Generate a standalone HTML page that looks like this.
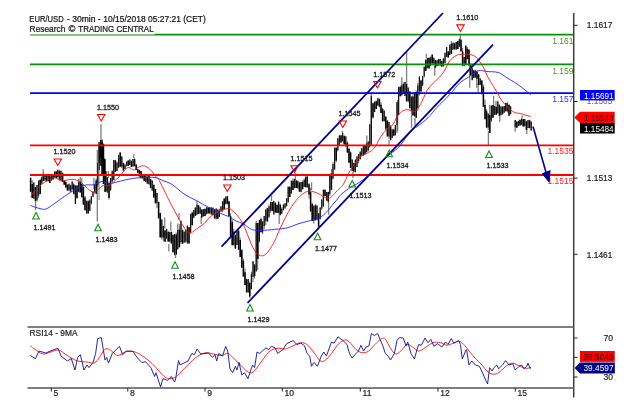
<!DOCTYPE html>
<html lang="en"><head><meta charset="utf-8"><title>EUR/USD - 30min</title>
<style>html,body{margin:0;padding:0;background:#fff;width:624px;height:415px;overflow:hidden}</style>
</head><body>
<svg width="624" height="415" viewBox="0 0 624 415" style="display:block;position:absolute;left:0;top:0">
<rect width="624" height="415" fill="#fff"/>
<line x1="35.6" y1="200.0" x2="35.6" y2="210.0" stroke="#808080" stroke-width="1.3"/>
<line x1="43.3" y1="169.3" x2="43.3" y2="175.0" stroke="#808080" stroke-width="1.3"/>
<line x1="97.3" y1="150.0" x2="97.3" y2="221.5" stroke="#808080" stroke-width="1.3"/>
<line x1="101.0" y1="124.0" x2="101.0" y2="141.0" stroke="#808080" stroke-width="1.3"/>
<line x1="93.9" y1="177.8" x2="93.9" y2="189.0" stroke="#808080" stroke-width="1.3"/>
<line x1="108.3" y1="171.0" x2="108.3" y2="178.0" stroke="#808080" stroke-width="1.3"/>
<line x1="133.8" y1="154.0" x2="133.8" y2="158.0" stroke="#808080" stroke-width="1.3"/>
<line x1="149.2" y1="175.6" x2="149.2" y2="178.0" stroke="#808080" stroke-width="1.3"/>
<line x1="164.7" y1="217.6" x2="164.7" y2="228.0" stroke="#808080" stroke-width="1.3"/>
<line x1="168.8" y1="244.0" x2="168.8" y2="251.5" stroke="#808080" stroke-width="1.3"/>
<line x1="170.8" y1="221.4" x2="170.8" y2="231.0" stroke="#808080" stroke-width="1.3"/>
<line x1="179.0" y1="213.0" x2="179.0" y2="220.0" stroke="#808080" stroke-width="1.3"/>
<line x1="175.5" y1="255.0" x2="175.5" y2="258.0" stroke="#808080" stroke-width="1.3"/>
<line x1="197.0" y1="200.9" x2="197.0" y2="205.0" stroke="#808080" stroke-width="1.3"/>
<line x1="201.2" y1="216.0" x2="201.2" y2="224.0" stroke="#808080" stroke-width="1.3"/>
<line x1="271.5" y1="195.5" x2="271.5" y2="201.0" stroke="#808080" stroke-width="1.3"/>
<line x1="279.2" y1="214.0" x2="279.2" y2="224.0" stroke="#808080" stroke-width="1.3"/>
<line x1="295.4" y1="173.0" x2="295.4" y2="180.0" stroke="#808080" stroke-width="1.3"/>
<line x1="311.6" y1="182.3" x2="311.6" y2="190.0" stroke="#808080" stroke-width="1.3"/>
<line x1="328.6" y1="200.0" x2="328.6" y2="214.8" stroke="#808080" stroke-width="1.3"/>
<line x1="342.4" y1="130.8" x2="342.4" y2="134.0" stroke="#808080" stroke-width="1.3"/>
<line x1="352.9" y1="172.0" x2="352.9" y2="177.9" stroke="#808080" stroke-width="1.3"/>
<line x1="366.8" y1="135.4" x2="366.8" y2="143.0" stroke="#808080" stroke-width="1.3"/>
<line x1="389.0" y1="140.0" x2="389.0" y2="144.7" stroke="#808080" stroke-width="1.3"/>
<line x1="401.8" y1="77.0" x2="401.8" y2="86.0" stroke="#808080" stroke-width="1.3"/>
<line x1="406.6" y1="52.0" x2="406.6" y2="85.0" stroke="#808080" stroke-width="1.3"/>
<line x1="411.5" y1="110.0" x2="411.5" y2="127.7" stroke="#808080" stroke-width="1.3"/>
<line x1="415.0" y1="118.0" x2="415.0" y2="125.4" stroke="#808080" stroke-width="1.3"/>
<line x1="426.4" y1="53.7" x2="426.4" y2="58.0" stroke="#808080" stroke-width="1.3"/>
<line x1="434.7" y1="66.0" x2="434.7" y2="75.5" stroke="#808080" stroke-width="1.3"/>
<line x1="469.7" y1="66.0" x2="469.7" y2="87.7" stroke="#808080" stroke-width="1.3"/>
<line x1="476.7" y1="78.0" x2="476.7" y2="87.7" stroke="#808080" stroke-width="1.3"/>
<line x1="478.2" y1="83.0" x2="478.2" y2="93.0" stroke="#808080" stroke-width="1.3"/>
<line x1="488.4" y1="131.0" x2="488.4" y2="145.4" stroke="#808080" stroke-width="1.3"/>
<line x1="489.8" y1="104.7" x2="489.8" y2="115.0" stroke="#808080" stroke-width="1.3"/>
<line x1="493.6" y1="96.0" x2="493.6" y2="106.0" stroke="#808080" stroke-width="1.3"/>
<line x1="496.0" y1="100.9" x2="496.0" y2="107.0" stroke="#808080" stroke-width="1.3"/>
<line x1="499.8" y1="114.0" x2="499.8" y2="121.7" stroke="#808080" stroke-width="1.3"/>
<line x1="515.2" y1="128.0" x2="515.2" y2="131.7" stroke="#808080" stroke-width="1.3"/>
<line x1="522.2" y1="115.5" x2="522.2" y2="118.0" stroke="#808080" stroke-width="1.3"/>
<line x1="526.8" y1="128.0" x2="526.8" y2="134.0" stroke="#808080" stroke-width="1.3"/>
<line x1="318.5" y1="225.0" x2="318.5" y2="228.0" stroke="#808080" stroke-width="1.3"/>
<line x1="257.6" y1="225.0" x2="257.6" y2="270.0" stroke="#808080" stroke-width="1.3"/>
<line x1="371.2" y1="93.0" x2="371.2" y2="125.0" stroke="#808080" stroke-width="1.3"/>
<line x1="397.6" y1="100.0" x2="397.6" y2="131.0" stroke="#808080" stroke-width="1.3"/>
<line x1="460.4" y1="34.6" x2="460.4" y2="40.0" stroke="#808080" stroke-width="1.3"/>
<line x1="30.6" y1="177.6" x2="30.6" y2="191.7" stroke="#505050" stroke-width="0.9"/>
<line x1="32.2" y1="180.2" x2="32.2" y2="197.9" stroke="#505050" stroke-width="0.9"/>
<line x1="33.8" y1="182.4" x2="33.8" y2="198.7" stroke="#505050" stroke-width="0.9"/>
<line x1="35.4" y1="186.7" x2="35.4" y2="201.2" stroke="#505050" stroke-width="0.9"/>
<line x1="37.0" y1="184.9" x2="37.0" y2="201.3" stroke="#505050" stroke-width="0.9"/>
<line x1="38.6" y1="180.7" x2="38.6" y2="197.8" stroke="#505050" stroke-width="0.9"/>
<line x1="40.2" y1="178.7" x2="40.2" y2="194.1" stroke="#505050" stroke-width="0.9"/>
<line x1="41.8" y1="176.3" x2="41.8" y2="183.8" stroke="#505050" stroke-width="0.9"/>
<line x1="43.4" y1="172.8" x2="43.4" y2="181.0" stroke="#505050" stroke-width="0.9"/>
<line x1="45.0" y1="175.6" x2="45.0" y2="180.7" stroke="#505050" stroke-width="0.9"/>
<line x1="46.6" y1="175.2" x2="46.6" y2="181.3" stroke="#505050" stroke-width="0.9"/>
<line x1="48.2" y1="174.9" x2="48.2" y2="181.3" stroke="#505050" stroke-width="0.9"/>
<line x1="49.8" y1="176.1" x2="49.8" y2="182.9" stroke="#505050" stroke-width="0.9"/>
<line x1="51.4" y1="174.2" x2="51.4" y2="180.8" stroke="#505050" stroke-width="0.9"/>
<line x1="53.0" y1="173.9" x2="53.0" y2="179.5" stroke="#505050" stroke-width="0.9"/>
<line x1="54.6" y1="171.5" x2="54.6" y2="178.2" stroke="#505050" stroke-width="0.9"/>
<line x1="56.2" y1="171.3" x2="56.2" y2="178.1" stroke="#505050" stroke-width="0.9"/>
<line x1="57.8" y1="169.6" x2="57.8" y2="177.8" stroke="#505050" stroke-width="0.9"/>
<line x1="59.4" y1="170.5" x2="59.4" y2="179.5" stroke="#505050" stroke-width="0.9"/>
<line x1="61.0" y1="170.8" x2="61.0" y2="180.6" stroke="#505050" stroke-width="0.9"/>
<line x1="62.6" y1="172.4" x2="62.6" y2="182.1" stroke="#505050" stroke-width="0.9"/>
<line x1="64.2" y1="180.4" x2="64.2" y2="184.8" stroke="#505050" stroke-width="0.9"/>
<line x1="65.8" y1="181.1" x2="65.8" y2="187.6" stroke="#505050" stroke-width="0.9"/>
<line x1="67.4" y1="184.3" x2="67.4" y2="190.5" stroke="#505050" stroke-width="0.9"/>
<line x1="69.0" y1="183.7" x2="69.0" y2="190.7" stroke="#505050" stroke-width="0.9"/>
<line x1="70.6" y1="184.9" x2="70.6" y2="191.6" stroke="#505050" stroke-width="0.9"/>
<line x1="72.2" y1="181.4" x2="72.2" y2="190.0" stroke="#505050" stroke-width="0.9"/>
<line x1="73.8" y1="183.2" x2="73.8" y2="194.7" stroke="#505050" stroke-width="0.9"/>
<line x1="75.4" y1="185.5" x2="75.4" y2="204.0" stroke="#505050" stroke-width="0.9"/>
<line x1="77.0" y1="185.2" x2="77.0" y2="198.3" stroke="#505050" stroke-width="0.9"/>
<line x1="78.6" y1="178.9" x2="78.6" y2="192.2" stroke="#505050" stroke-width="0.9"/>
<line x1="80.2" y1="177.0" x2="80.2" y2="192.6" stroke="#505050" stroke-width="0.9"/>
<line x1="81.8" y1="178.1" x2="81.8" y2="197.2" stroke="#505050" stroke-width="0.9"/>
<line x1="83.4" y1="186.7" x2="83.4" y2="204.7" stroke="#505050" stroke-width="0.9"/>
<line x1="85.0" y1="196.0" x2="85.0" y2="210.3" stroke="#505050" stroke-width="0.9"/>
<line x1="86.6" y1="200.8" x2="86.6" y2="213.5" stroke="#505050" stroke-width="0.9"/>
<line x1="88.2" y1="200.3" x2="88.2" y2="213.7" stroke="#505050" stroke-width="0.9"/>
<line x1="89.8" y1="199.0" x2="89.8" y2="210.8" stroke="#505050" stroke-width="0.9"/>
<line x1="91.4" y1="196.4" x2="91.4" y2="204.6" stroke="#505050" stroke-width="0.9"/>
<line x1="93.0" y1="191.6" x2="93.0" y2="196.9" stroke="#505050" stroke-width="0.9"/>
<line x1="94.6" y1="185.1" x2="94.6" y2="193.4" stroke="#505050" stroke-width="0.9"/>
<line x1="96.2" y1="178.5" x2="96.2" y2="193.8" stroke="#505050" stroke-width="0.9"/>
<line x1="97.8" y1="162.9" x2="97.8" y2="187.7" stroke="#505050" stroke-width="0.9"/>
<line x1="99.4" y1="144.2" x2="99.4" y2="170.2" stroke="#505050" stroke-width="0.9"/>
<line x1="101.0" y1="143.1" x2="101.0" y2="165.7" stroke="#505050" stroke-width="0.9"/>
<line x1="102.6" y1="142.3" x2="102.6" y2="174.4" stroke="#505050" stroke-width="0.9"/>
<line x1="104.2" y1="157.7" x2="104.2" y2="182.0" stroke="#505050" stroke-width="0.9"/>
<line x1="105.8" y1="170.7" x2="105.8" y2="191.6" stroke="#505050" stroke-width="0.9"/>
<line x1="107.4" y1="177.2" x2="107.4" y2="193.3" stroke="#505050" stroke-width="0.9"/>
<line x1="109.0" y1="181.3" x2="109.0" y2="199.6" stroke="#505050" stroke-width="0.9"/>
<line x1="110.6" y1="178.3" x2="110.6" y2="190.5" stroke="#505050" stroke-width="0.9"/>
<line x1="112.2" y1="170.8" x2="112.2" y2="182.9" stroke="#505050" stroke-width="0.9"/>
<line x1="113.8" y1="159.9" x2="113.8" y2="180.0" stroke="#505050" stroke-width="0.9"/>
<line x1="115.4" y1="160.1" x2="115.4" y2="172.0" stroke="#505050" stroke-width="0.9"/>
<line x1="117.0" y1="161.5" x2="117.0" y2="171.1" stroke="#505050" stroke-width="0.9"/>
<line x1="118.6" y1="154.9" x2="118.6" y2="168.1" stroke="#505050" stroke-width="0.9"/>
<line x1="120.2" y1="152.5" x2="120.2" y2="166.8" stroke="#505050" stroke-width="0.9"/>
<line x1="121.8" y1="156.5" x2="121.8" y2="168.1" stroke="#505050" stroke-width="0.9"/>
<line x1="123.4" y1="162.7" x2="123.4" y2="170.7" stroke="#505050" stroke-width="0.9"/>
<line x1="125.0" y1="164.4" x2="125.0" y2="169.3" stroke="#505050" stroke-width="0.9"/>
<line x1="126.6" y1="161.7" x2="126.6" y2="166.4" stroke="#505050" stroke-width="0.9"/>
<line x1="128.2" y1="159.9" x2="128.2" y2="166.1" stroke="#505050" stroke-width="0.9"/>
<line x1="129.8" y1="159.5" x2="129.8" y2="165.0" stroke="#505050" stroke-width="0.9"/>
<line x1="131.4" y1="160.6" x2="131.4" y2="166.9" stroke="#505050" stroke-width="0.9"/>
<line x1="133.0" y1="159.1" x2="133.0" y2="166.9" stroke="#505050" stroke-width="0.9"/>
<line x1="134.6" y1="158.3" x2="134.6" y2="166.5" stroke="#505050" stroke-width="0.9"/>
<line x1="136.2" y1="164.2" x2="136.2" y2="170.1" stroke="#505050" stroke-width="0.9"/>
<line x1="137.8" y1="169.2" x2="137.8" y2="172.7" stroke="#505050" stroke-width="0.9"/>
<line x1="139.4" y1="169.5" x2="139.4" y2="176.5" stroke="#505050" stroke-width="0.9"/>
<line x1="141.0" y1="171.0" x2="141.0" y2="178.2" stroke="#505050" stroke-width="0.9"/>
<line x1="142.6" y1="174.2" x2="142.6" y2="178.7" stroke="#505050" stroke-width="0.9"/>
<line x1="144.2" y1="175.8" x2="144.2" y2="181.5" stroke="#505050" stroke-width="0.9"/>
<line x1="145.8" y1="175.6" x2="145.8" y2="181.9" stroke="#505050" stroke-width="0.9"/>
<line x1="147.4" y1="176.6" x2="147.4" y2="183.6" stroke="#505050" stroke-width="0.9"/>
<line x1="149.0" y1="176.0" x2="149.0" y2="185.0" stroke="#505050" stroke-width="0.9"/>
<line x1="150.6" y1="179.0" x2="150.6" y2="188.1" stroke="#505050" stroke-width="0.9"/>
<line x1="152.2" y1="180.6" x2="152.2" y2="191.1" stroke="#505050" stroke-width="0.9"/>
<line x1="153.8" y1="184.7" x2="153.8" y2="197.5" stroke="#505050" stroke-width="0.9"/>
<line x1="155.4" y1="188.8" x2="155.4" y2="203.3" stroke="#505050" stroke-width="0.9"/>
<line x1="157.0" y1="193.0" x2="157.0" y2="208.1" stroke="#505050" stroke-width="0.9"/>
<line x1="158.6" y1="201.9" x2="158.6" y2="218.3" stroke="#505050" stroke-width="0.9"/>
<line x1="160.2" y1="212.8" x2="160.2" y2="237.4" stroke="#505050" stroke-width="0.9"/>
<line x1="161.8" y1="219.4" x2="161.8" y2="239.6" stroke="#505050" stroke-width="0.9"/>
<line x1="163.4" y1="225.8" x2="163.4" y2="241.3" stroke="#505050" stroke-width="0.9"/>
<line x1="165.0" y1="229.9" x2="165.0" y2="241.8" stroke="#505050" stroke-width="0.9"/>
<line x1="166.6" y1="228.8" x2="166.6" y2="238.8" stroke="#505050" stroke-width="0.9"/>
<line x1="168.2" y1="230.8" x2="168.2" y2="241.8" stroke="#505050" stroke-width="0.9"/>
<line x1="169.8" y1="231.7" x2="169.8" y2="242.5" stroke="#505050" stroke-width="0.9"/>
<line x1="171.4" y1="231.5" x2="171.4" y2="243.6" stroke="#505050" stroke-width="0.9"/>
<line x1="173.0" y1="234.2" x2="173.0" y2="252.3" stroke="#505050" stroke-width="0.9"/>
<line x1="174.6" y1="234.1" x2="174.6" y2="255.4" stroke="#505050" stroke-width="0.9"/>
<line x1="176.2" y1="232.5" x2="176.2" y2="254.7" stroke="#505050" stroke-width="0.9"/>
<line x1="177.8" y1="223.5" x2="177.8" y2="249.4" stroke="#505050" stroke-width="0.9"/>
<line x1="179.4" y1="224.3" x2="179.4" y2="247.3" stroke="#505050" stroke-width="0.9"/>
<line x1="181.0" y1="220.3" x2="181.0" y2="244.2" stroke="#505050" stroke-width="0.9"/>
<line x1="182.6" y1="229.4" x2="182.6" y2="243.8" stroke="#505050" stroke-width="0.9"/>
<line x1="184.2" y1="231.6" x2="184.2" y2="242.7" stroke="#505050" stroke-width="0.9"/>
<line x1="185.8" y1="229.9" x2="185.8" y2="242.9" stroke="#505050" stroke-width="0.9"/>
<line x1="187.4" y1="225.6" x2="187.4" y2="244.1" stroke="#505050" stroke-width="0.9"/>
<line x1="189.0" y1="227.0" x2="189.0" y2="243.4" stroke="#505050" stroke-width="0.9"/>
<line x1="190.6" y1="213.8" x2="190.6" y2="232.9" stroke="#505050" stroke-width="0.9"/>
<line x1="192.2" y1="211.5" x2="192.2" y2="225.2" stroke="#505050" stroke-width="0.9"/>
<line x1="193.8" y1="209.9" x2="193.8" y2="218.3" stroke="#505050" stroke-width="0.9"/>
<line x1="195.4" y1="207.5" x2="195.4" y2="215.9" stroke="#505050" stroke-width="0.9"/>
<line x1="197.0" y1="204.7" x2="197.0" y2="214.7" stroke="#505050" stroke-width="0.9"/>
<line x1="198.6" y1="205.2" x2="198.6" y2="213.7" stroke="#505050" stroke-width="0.9"/>
<line x1="200.2" y1="206.9" x2="200.2" y2="214.0" stroke="#505050" stroke-width="0.9"/>
<line x1="201.8" y1="209.5" x2="201.8" y2="217.6" stroke="#505050" stroke-width="0.9"/>
<line x1="203.4" y1="209.1" x2="203.4" y2="216.7" stroke="#505050" stroke-width="0.9"/>
<line x1="205.0" y1="208.4" x2="205.0" y2="216.1" stroke="#505050" stroke-width="0.9"/>
<line x1="206.6" y1="207.3" x2="206.6" y2="214.2" stroke="#505050" stroke-width="0.9"/>
<line x1="208.2" y1="207.5" x2="208.2" y2="213.4" stroke="#505050" stroke-width="0.9"/>
<line x1="209.8" y1="207.5" x2="209.8" y2="213.4" stroke="#505050" stroke-width="0.9"/>
<line x1="211.4" y1="207.3" x2="211.4" y2="214.5" stroke="#505050" stroke-width="0.9"/>
<line x1="213.0" y1="207.8" x2="213.0" y2="215.3" stroke="#505050" stroke-width="0.9"/>
<line x1="214.6" y1="208.9" x2="214.6" y2="218.5" stroke="#505050" stroke-width="0.9"/>
<line x1="216.2" y1="208.6" x2="216.2" y2="219.6" stroke="#505050" stroke-width="0.9"/>
<line x1="217.8" y1="209.3" x2="217.8" y2="218.9" stroke="#505050" stroke-width="0.9"/>
<line x1="219.4" y1="208.7" x2="219.4" y2="217.0" stroke="#505050" stroke-width="0.9"/>
<line x1="221.0" y1="206.2" x2="221.0" y2="211.8" stroke="#505050" stroke-width="0.9"/>
<line x1="222.6" y1="201.4" x2="222.6" y2="212.4" stroke="#505050" stroke-width="0.9"/>
<line x1="224.2" y1="198.1" x2="224.2" y2="209.3" stroke="#505050" stroke-width="0.9"/>
<line x1="225.8" y1="196.3" x2="225.8" y2="204.3" stroke="#505050" stroke-width="0.9"/>
<line x1="227.4" y1="195.8" x2="227.4" y2="204.5" stroke="#505050" stroke-width="0.9"/>
<line x1="229.0" y1="201.1" x2="229.0" y2="216.1" stroke="#505050" stroke-width="0.9"/>
<line x1="230.6" y1="213.2" x2="230.6" y2="238.4" stroke="#505050" stroke-width="0.9"/>
<line x1="232.2" y1="219.8" x2="232.2" y2="245.2" stroke="#505050" stroke-width="0.9"/>
<line x1="233.8" y1="228.6" x2="233.8" y2="245.3" stroke="#505050" stroke-width="0.9"/>
<line x1="235.4" y1="234.5" x2="235.4" y2="248.9" stroke="#505050" stroke-width="0.9"/>
<line x1="237.0" y1="231.0" x2="237.0" y2="244.9" stroke="#505050" stroke-width="0.9"/>
<line x1="238.6" y1="230.0" x2="238.6" y2="249.8" stroke="#505050" stroke-width="0.9"/>
<line x1="240.2" y1="237.6" x2="240.2" y2="257.0" stroke="#505050" stroke-width="0.9"/>
<line x1="241.8" y1="249.7" x2="241.8" y2="267.7" stroke="#505050" stroke-width="0.9"/>
<line x1="243.4" y1="258.7" x2="243.4" y2="276.6" stroke="#505050" stroke-width="0.9"/>
<line x1="245.0" y1="268.5" x2="245.0" y2="285.0" stroke="#505050" stroke-width="0.9"/>
<line x1="246.6" y1="278.8" x2="246.6" y2="292.4" stroke="#505050" stroke-width="0.9"/>
<line x1="248.2" y1="278.9" x2="248.2" y2="292.5" stroke="#505050" stroke-width="0.9"/>
<line x1="249.8" y1="281.5" x2="249.8" y2="298.0" stroke="#505050" stroke-width="0.9"/>
<line x1="251.4" y1="271.7" x2="251.4" y2="289.2" stroke="#505050" stroke-width="0.9"/>
<line x1="253.0" y1="261.2" x2="253.0" y2="282.2" stroke="#505050" stroke-width="0.9"/>
<line x1="254.6" y1="264.1" x2="254.6" y2="278.4" stroke="#505050" stroke-width="0.9"/>
<line x1="256.2" y1="221.0" x2="256.2" y2="272.1" stroke="#505050" stroke-width="0.9"/>
<line x1="257.8" y1="222.6" x2="257.8" y2="259.1" stroke="#505050" stroke-width="0.9"/>
<line x1="259.4" y1="220.0" x2="259.4" y2="242.4" stroke="#505050" stroke-width="0.9"/>
<line x1="261.0" y1="217.6" x2="261.0" y2="232.3" stroke="#505050" stroke-width="0.9"/>
<line x1="262.6" y1="221.4" x2="262.6" y2="234.2" stroke="#505050" stroke-width="0.9"/>
<line x1="264.2" y1="216.0" x2="264.2" y2="229.1" stroke="#505050" stroke-width="0.9"/>
<line x1="265.8" y1="209.6" x2="265.8" y2="225.3" stroke="#505050" stroke-width="0.9"/>
<line x1="267.4" y1="207.8" x2="267.4" y2="221.5" stroke="#505050" stroke-width="0.9"/>
<line x1="269.0" y1="204.8" x2="269.0" y2="218.1" stroke="#505050" stroke-width="0.9"/>
<line x1="270.6" y1="201.8" x2="270.6" y2="212.7" stroke="#505050" stroke-width="0.9"/>
<line x1="272.2" y1="201.9" x2="272.2" y2="211.1" stroke="#505050" stroke-width="0.9"/>
<line x1="273.8" y1="200.9" x2="273.8" y2="214.7" stroke="#505050" stroke-width="0.9"/>
<line x1="275.4" y1="202.1" x2="275.4" y2="212.5" stroke="#505050" stroke-width="0.9"/>
<line x1="277.0" y1="204.2" x2="277.0" y2="213.0" stroke="#505050" stroke-width="0.9"/>
<line x1="278.6" y1="201.6" x2="278.6" y2="213.4" stroke="#505050" stroke-width="0.9"/>
<line x1="280.2" y1="203.7" x2="280.2" y2="215.3" stroke="#505050" stroke-width="0.9"/>
<line x1="281.8" y1="207.3" x2="281.8" y2="214.0" stroke="#505050" stroke-width="0.9"/>
<line x1="283.4" y1="204.5" x2="283.4" y2="210.6" stroke="#505050" stroke-width="0.9"/>
<line x1="285.0" y1="203.2" x2="285.0" y2="209.1" stroke="#505050" stroke-width="0.9"/>
<line x1="286.6" y1="198.3" x2="286.6" y2="206.6" stroke="#505050" stroke-width="0.9"/>
<line x1="288.2" y1="186.7" x2="288.2" y2="202.9" stroke="#505050" stroke-width="0.9"/>
<line x1="289.8" y1="186.5" x2="289.8" y2="197.3" stroke="#505050" stroke-width="0.9"/>
<line x1="291.4" y1="180.7" x2="291.4" y2="193.5" stroke="#505050" stroke-width="0.9"/>
<line x1="293.0" y1="178.3" x2="293.0" y2="190.1" stroke="#505050" stroke-width="0.9"/>
<line x1="294.6" y1="178.9" x2="294.6" y2="188.2" stroke="#505050" stroke-width="0.9"/>
<line x1="296.2" y1="179.9" x2="296.2" y2="188.0" stroke="#505050" stroke-width="0.9"/>
<line x1="297.8" y1="180.8" x2="297.8" y2="188.4" stroke="#505050" stroke-width="0.9"/>
<line x1="299.4" y1="182.4" x2="299.4" y2="191.6" stroke="#505050" stroke-width="0.9"/>
<line x1="301.0" y1="182.0" x2="301.0" y2="192.4" stroke="#505050" stroke-width="0.9"/>
<line x1="302.6" y1="180.5" x2="302.6" y2="189.3" stroke="#505050" stroke-width="0.9"/>
<line x1="304.2" y1="178.6" x2="304.2" y2="187.0" stroke="#505050" stroke-width="0.9"/>
<line x1="305.8" y1="176.2" x2="305.8" y2="187.3" stroke="#505050" stroke-width="0.9"/>
<line x1="307.4" y1="176.4" x2="307.4" y2="187.4" stroke="#505050" stroke-width="0.9"/>
<line x1="309.0" y1="183.0" x2="309.0" y2="198.6" stroke="#505050" stroke-width="0.9"/>
<line x1="310.6" y1="187.7" x2="310.6" y2="211.4" stroke="#505050" stroke-width="0.9"/>
<line x1="312.2" y1="202.4" x2="312.2" y2="220.8" stroke="#505050" stroke-width="0.9"/>
<line x1="313.8" y1="205.8" x2="313.8" y2="223.7" stroke="#505050" stroke-width="0.9"/>
<line x1="315.4" y1="203.9" x2="315.4" y2="220.3" stroke="#505050" stroke-width="0.9"/>
<line x1="317.0" y1="205.5" x2="317.0" y2="220.5" stroke="#505050" stroke-width="0.9"/>
<line x1="318.6" y1="213.0" x2="318.6" y2="226.4" stroke="#505050" stroke-width="0.9"/>
<line x1="320.2" y1="207.4" x2="320.2" y2="219.5" stroke="#505050" stroke-width="0.9"/>
<line x1="321.8" y1="199.4" x2="321.8" y2="209.9" stroke="#505050" stroke-width="0.9"/>
<line x1="323.4" y1="189.7" x2="323.4" y2="206.5" stroke="#505050" stroke-width="0.9"/>
<line x1="325.0" y1="189.4" x2="325.0" y2="196.5" stroke="#505050" stroke-width="0.9"/>
<line x1="326.6" y1="192.1" x2="326.6" y2="200.7" stroke="#505050" stroke-width="0.9"/>
<line x1="328.2" y1="191.7" x2="328.2" y2="202.8" stroke="#505050" stroke-width="0.9"/>
<line x1="329.8" y1="174.3" x2="329.8" y2="195.9" stroke="#505050" stroke-width="0.9"/>
<line x1="331.4" y1="169.0" x2="331.4" y2="189.9" stroke="#505050" stroke-width="0.9"/>
<line x1="333.0" y1="161.9" x2="333.0" y2="179.2" stroke="#505050" stroke-width="0.9"/>
<line x1="334.6" y1="147.6" x2="334.6" y2="169.6" stroke="#505050" stroke-width="0.9"/>
<line x1="336.2" y1="147.0" x2="336.2" y2="162.1" stroke="#505050" stroke-width="0.9"/>
<line x1="337.8" y1="138.3" x2="337.8" y2="151.3" stroke="#505050" stroke-width="0.9"/>
<line x1="339.4" y1="135.4" x2="339.4" y2="145.3" stroke="#505050" stroke-width="0.9"/>
<line x1="341.0" y1="135.3" x2="341.0" y2="142.6" stroke="#505050" stroke-width="0.9"/>
<line x1="342.6" y1="133.2" x2="342.6" y2="141.7" stroke="#505050" stroke-width="0.9"/>
<line x1="344.2" y1="135.2" x2="344.2" y2="144.2" stroke="#505050" stroke-width="0.9"/>
<line x1="345.8" y1="136.4" x2="345.8" y2="147.1" stroke="#505050" stroke-width="0.9"/>
<line x1="347.4" y1="141.5" x2="347.4" y2="152.9" stroke="#505050" stroke-width="0.9"/>
<line x1="349.0" y1="148.3" x2="349.0" y2="162.7" stroke="#505050" stroke-width="0.9"/>
<line x1="350.6" y1="151.6" x2="350.6" y2="168.0" stroke="#505050" stroke-width="0.9"/>
<line x1="352.2" y1="159.5" x2="352.2" y2="171.2" stroke="#505050" stroke-width="0.9"/>
<line x1="353.8" y1="162.8" x2="353.8" y2="172.4" stroke="#505050" stroke-width="0.9"/>
<line x1="355.4" y1="159.6" x2="355.4" y2="172.2" stroke="#505050" stroke-width="0.9"/>
<line x1="357.0" y1="156.5" x2="357.0" y2="167.1" stroke="#505050" stroke-width="0.9"/>
<line x1="358.6" y1="154.0" x2="358.6" y2="163.5" stroke="#505050" stroke-width="0.9"/>
<line x1="360.2" y1="151.6" x2="360.2" y2="159.4" stroke="#505050" stroke-width="0.9"/>
<line x1="361.8" y1="148.2" x2="361.8" y2="156.1" stroke="#505050" stroke-width="0.9"/>
<line x1="363.4" y1="146.0" x2="363.4" y2="155.6" stroke="#505050" stroke-width="0.9"/>
<line x1="365.0" y1="145.7" x2="365.0" y2="154.3" stroke="#505050" stroke-width="0.9"/>
<line x1="366.6" y1="143.1" x2="366.6" y2="152.3" stroke="#505050" stroke-width="0.9"/>
<line x1="368.2" y1="141.6" x2="368.2" y2="151.5" stroke="#505050" stroke-width="0.9"/>
<line x1="369.8" y1="124.3" x2="369.8" y2="147.8" stroke="#505050" stroke-width="0.9"/>
<line x1="371.4" y1="96.2" x2="371.4" y2="144.8" stroke="#505050" stroke-width="0.9"/>
<line x1="373.0" y1="102.5" x2="373.0" y2="118.6" stroke="#505050" stroke-width="0.9"/>
<line x1="374.6" y1="101.6" x2="374.6" y2="112.1" stroke="#505050" stroke-width="0.9"/>
<line x1="376.2" y1="100.6" x2="376.2" y2="109.0" stroke="#505050" stroke-width="0.9"/>
<line x1="377.8" y1="98.2" x2="377.8" y2="105.7" stroke="#505050" stroke-width="0.9"/>
<line x1="379.4" y1="98.4" x2="379.4" y2="107.3" stroke="#505050" stroke-width="0.9"/>
<line x1="381.0" y1="102.1" x2="381.0" y2="112.9" stroke="#505050" stroke-width="0.9"/>
<line x1="382.6" y1="107.9" x2="382.6" y2="121.3" stroke="#505050" stroke-width="0.9"/>
<line x1="384.2" y1="110.4" x2="384.2" y2="121.6" stroke="#505050" stroke-width="0.9"/>
<line x1="385.8" y1="116.1" x2="385.8" y2="130.5" stroke="#505050" stroke-width="0.9"/>
<line x1="387.4" y1="120.5" x2="387.4" y2="136.4" stroke="#505050" stroke-width="0.9"/>
<line x1="389.0" y1="121.9" x2="389.0" y2="139.0" stroke="#505050" stroke-width="0.9"/>
<line x1="390.6" y1="125.0" x2="390.6" y2="140.2" stroke="#505050" stroke-width="0.9"/>
<line x1="392.2" y1="129.1" x2="392.2" y2="138.2" stroke="#505050" stroke-width="0.9"/>
<line x1="393.8" y1="128.5" x2="393.8" y2="135.8" stroke="#505050" stroke-width="0.9"/>
<line x1="395.4" y1="125.0" x2="395.4" y2="135.4" stroke="#505050" stroke-width="0.9"/>
<line x1="397.0" y1="102.3" x2="397.0" y2="133.1" stroke="#505050" stroke-width="0.9"/>
<line x1="398.6" y1="86.9" x2="398.6" y2="115.0" stroke="#505050" stroke-width="0.9"/>
<line x1="400.2" y1="85.5" x2="400.2" y2="96.4" stroke="#505050" stroke-width="0.9"/>
<line x1="401.8" y1="85.4" x2="401.8" y2="96.2" stroke="#505050" stroke-width="0.9"/>
<line x1="403.4" y1="82.5" x2="403.4" y2="93.9" stroke="#505050" stroke-width="0.9"/>
<line x1="405.0" y1="82.1" x2="405.0" y2="95.9" stroke="#505050" stroke-width="0.9"/>
<line x1="406.6" y1="84.1" x2="406.6" y2="101.3" stroke="#505050" stroke-width="0.9"/>
<line x1="408.2" y1="87.3" x2="408.2" y2="102.3" stroke="#505050" stroke-width="0.9"/>
<line x1="409.8" y1="91.4" x2="409.8" y2="108.3" stroke="#505050" stroke-width="0.9"/>
<line x1="411.4" y1="96.5" x2="411.4" y2="111.7" stroke="#505050" stroke-width="0.9"/>
<line x1="413.0" y1="94.2" x2="413.0" y2="115.5" stroke="#505050" stroke-width="0.9"/>
<line x1="414.6" y1="92.3" x2="414.6" y2="116.5" stroke="#505050" stroke-width="0.9"/>
<line x1="416.2" y1="90.4" x2="416.2" y2="117.7" stroke="#505050" stroke-width="0.9"/>
<line x1="417.8" y1="82.8" x2="417.8" y2="110.8" stroke="#505050" stroke-width="0.9"/>
<line x1="419.4" y1="76.5" x2="419.4" y2="95.5" stroke="#505050" stroke-width="0.9"/>
<line x1="421.0" y1="79.7" x2="421.0" y2="91.6" stroke="#505050" stroke-width="0.9"/>
<line x1="422.6" y1="76.2" x2="422.6" y2="86.1" stroke="#505050" stroke-width="0.9"/>
<line x1="424.2" y1="66.7" x2="424.2" y2="77.5" stroke="#505050" stroke-width="0.9"/>
<line x1="425.8" y1="59.0" x2="425.8" y2="71.0" stroke="#505050" stroke-width="0.9"/>
<line x1="427.4" y1="57.8" x2="427.4" y2="68.4" stroke="#505050" stroke-width="0.9"/>
<line x1="429.0" y1="57.6" x2="429.0" y2="68.5" stroke="#505050" stroke-width="0.9"/>
<line x1="430.6" y1="56.6" x2="430.6" y2="65.8" stroke="#505050" stroke-width="0.9"/>
<line x1="432.2" y1="54.3" x2="432.2" y2="63.4" stroke="#505050" stroke-width="0.9"/>
<line x1="433.8" y1="57.7" x2="433.8" y2="65.2" stroke="#505050" stroke-width="0.9"/>
<line x1="435.4" y1="60.0" x2="435.4" y2="67.6" stroke="#505050" stroke-width="0.9"/>
<line x1="437.0" y1="60.1" x2="437.0" y2="66.4" stroke="#505050" stroke-width="0.9"/>
<line x1="438.6" y1="58.9" x2="438.6" y2="65.3" stroke="#505050" stroke-width="0.9"/>
<line x1="440.2" y1="59.0" x2="440.2" y2="65.5" stroke="#505050" stroke-width="0.9"/>
<line x1="441.8" y1="60.6" x2="441.8" y2="67.1" stroke="#505050" stroke-width="0.9"/>
<line x1="443.4" y1="58.4" x2="443.4" y2="66.5" stroke="#505050" stroke-width="0.9"/>
<line x1="445.0" y1="52.8" x2="445.0" y2="62.9" stroke="#505050" stroke-width="0.9"/>
<line x1="446.6" y1="47.0" x2="446.6" y2="57.0" stroke="#505050" stroke-width="0.9"/>
<line x1="448.2" y1="51.0" x2="448.2" y2="57.5" stroke="#505050" stroke-width="0.9"/>
<line x1="449.8" y1="44.1" x2="449.8" y2="55.0" stroke="#505050" stroke-width="0.9"/>
<line x1="451.4" y1="41.2" x2="451.4" y2="54.0" stroke="#505050" stroke-width="0.9"/>
<line x1="453.0" y1="42.1" x2="453.0" y2="50.0" stroke="#505050" stroke-width="0.9"/>
<line x1="454.6" y1="42.9" x2="454.6" y2="50.2" stroke="#505050" stroke-width="0.9"/>
<line x1="456.2" y1="42.0" x2="456.2" y2="49.6" stroke="#505050" stroke-width="0.9"/>
<line x1="457.8" y1="41.0" x2="457.8" y2="49.0" stroke="#505050" stroke-width="0.9"/>
<line x1="459.4" y1="38.4" x2="459.4" y2="46.9" stroke="#505050" stroke-width="0.9"/>
<line x1="461.0" y1="39.0" x2="461.0" y2="51.7" stroke="#505050" stroke-width="0.9"/>
<line x1="462.6" y1="47.9" x2="462.6" y2="65.7" stroke="#505050" stroke-width="0.9"/>
<line x1="464.2" y1="57.1" x2="464.2" y2="66.5" stroke="#505050" stroke-width="0.9"/>
<line x1="465.8" y1="45.6" x2="465.8" y2="63.7" stroke="#505050" stroke-width="0.9"/>
<line x1="467.4" y1="47.1" x2="467.4" y2="59.2" stroke="#505050" stroke-width="0.9"/>
<line x1="469.0" y1="49.1" x2="469.0" y2="65.4" stroke="#505050" stroke-width="0.9"/>
<line x1="470.6" y1="63.3" x2="470.6" y2="74.9" stroke="#505050" stroke-width="0.9"/>
<line x1="472.2" y1="68.2" x2="472.2" y2="80.5" stroke="#505050" stroke-width="0.9"/>
<line x1="473.8" y1="70.0" x2="473.8" y2="77.9" stroke="#505050" stroke-width="0.9"/>
<line x1="475.4" y1="70.1" x2="475.4" y2="77.7" stroke="#505050" stroke-width="0.9"/>
<line x1="477.0" y1="71.4" x2="477.0" y2="78.7" stroke="#505050" stroke-width="0.9"/>
<line x1="478.6" y1="74.2" x2="478.6" y2="85.1" stroke="#505050" stroke-width="0.9"/>
<line x1="480.2" y1="78.5" x2="480.2" y2="85.2" stroke="#505050" stroke-width="0.9"/>
<line x1="481.8" y1="80.3" x2="481.8" y2="94.2" stroke="#505050" stroke-width="0.9"/>
<line x1="483.4" y1="84.4" x2="483.4" y2="106.7" stroke="#505050" stroke-width="0.9"/>
<line x1="485.0" y1="99.7" x2="485.0" y2="119.2" stroke="#505050" stroke-width="0.9"/>
<line x1="486.6" y1="109.1" x2="486.6" y2="127.6" stroke="#505050" stroke-width="0.9"/>
<line x1="488.2" y1="113.5" x2="488.2" y2="130.2" stroke="#505050" stroke-width="0.9"/>
<line x1="489.8" y1="115.1" x2="489.8" y2="133.0" stroke="#505050" stroke-width="0.9"/>
<line x1="491.4" y1="105.4" x2="491.4" y2="122.0" stroke="#505050" stroke-width="0.9"/>
<line x1="493.0" y1="105.0" x2="493.0" y2="117.7" stroke="#505050" stroke-width="0.9"/>
<line x1="494.6" y1="106.1" x2="494.6" y2="115.1" stroke="#505050" stroke-width="0.9"/>
<line x1="496.2" y1="106.9" x2="496.2" y2="114.8" stroke="#505050" stroke-width="0.9"/>
<line x1="497.8" y1="100.6" x2="497.8" y2="113.6" stroke="#505050" stroke-width="0.9"/>
<line x1="499.4" y1="104.6" x2="499.4" y2="115.8" stroke="#505050" stroke-width="0.9"/>
<line x1="501.0" y1="106.1" x2="501.0" y2="115.5" stroke="#505050" stroke-width="0.9"/>
<line x1="502.6" y1="106.0" x2="502.6" y2="114.8" stroke="#505050" stroke-width="0.9"/>
<line x1="504.2" y1="105.9" x2="504.2" y2="113.2" stroke="#505050" stroke-width="0.9"/>
<line x1="505.8" y1="102.8" x2="505.8" y2="111.2" stroke="#505050" stroke-width="0.9"/>
<line x1="507.4" y1="102.1" x2="507.4" y2="112.4" stroke="#505050" stroke-width="0.9"/>
<line x1="509.0" y1="104.1" x2="509.0" y2="115.8" stroke="#505050" stroke-width="0.9"/>
<line x1="510.6" y1="105.7" x2="510.6" y2="114.4" stroke="#505050" stroke-width="0.9"/>
<line x1="30.6" y1="177.8" x2="30.6" y2="191.7" stroke="#000" stroke-width="1.5"/>
<line x1="32.2" y1="183.9" x2="32.2" y2="197.9" stroke="#000" stroke-width="1.5"/>
<line x1="33.8" y1="182.4" x2="33.8" y2="198.6" stroke="#141414" stroke-width="1.25"/>
<line x1="35.4" y1="187.2" x2="35.4" y2="200.8" stroke="#000" stroke-width="1.5"/>
<line x1="37.0" y1="184.9" x2="37.0" y2="200.2" stroke="#141414" stroke-width="1.25"/>
<line x1="38.6" y1="180.7" x2="38.6" y2="195.5" stroke="#141414" stroke-width="1.25"/>
<line x1="40.2" y1="180.1" x2="40.2" y2="194.1" stroke="#000" stroke-width="1.5"/>
<line x1="41.8" y1="177.0" x2="41.8" y2="183.6" stroke="#141414" stroke-width="1.25"/>
<line x1="43.4" y1="174.7" x2="43.4" y2="181.0" stroke="#000" stroke-width="1.5"/>
<line x1="45.0" y1="175.7" x2="45.0" y2="180.4" stroke="#141414" stroke-width="1.25"/>
<line x1="46.6" y1="175.5" x2="46.6" y2="181.3" stroke="#000" stroke-width="1.5"/>
<line x1="48.2" y1="174.9" x2="48.2" y2="181.2" stroke="#141414" stroke-width="1.25"/>
<line x1="49.8" y1="176.2" x2="49.8" y2="182.9" stroke="#000" stroke-width="1.5"/>
<line x1="51.4" y1="174.6" x2="51.4" y2="180.4" stroke="#141414" stroke-width="1.25"/>
<line x1="53.0" y1="174.1" x2="53.0" y2="179.5" stroke="#000" stroke-width="1.5"/>
<line x1="54.6" y1="171.5" x2="54.6" y2="177.8" stroke="#141414" stroke-width="1.25"/>
<line x1="56.2" y1="171.5" x2="56.2" y2="178.1" stroke="#000" stroke-width="1.5"/>
<line x1="57.8" y1="169.8" x2="57.8" y2="177.1" stroke="#141414" stroke-width="1.25"/>
<line x1="59.4" y1="170.7" x2="59.4" y2="179.5" stroke="#000" stroke-width="1.5"/>
<line x1="61.0" y1="170.8" x2="61.0" y2="180.6" stroke="#141414" stroke-width="1.25"/>
<line x1="62.6" y1="172.9" x2="62.6" y2="182.1" stroke="#000" stroke-width="1.5"/>
<line x1="64.2" y1="180.5" x2="64.2" y2="184.8" stroke="#000" stroke-width="1.5"/>
<line x1="65.8" y1="181.9" x2="65.8" y2="187.6" stroke="#000" stroke-width="1.5"/>
<line x1="67.4" y1="184.8" x2="67.4" y2="190.5" stroke="#000" stroke-width="1.5"/>
<line x1="69.0" y1="183.7" x2="69.0" y2="190.5" stroke="#141414" stroke-width="1.25"/>
<line x1="70.6" y1="185.3" x2="70.6" y2="191.6" stroke="#000" stroke-width="1.5"/>
<line x1="72.2" y1="181.4" x2="72.2" y2="189.2" stroke="#141414" stroke-width="1.25"/>
<line x1="73.8" y1="184.5" x2="73.8" y2="193.8" stroke="#000" stroke-width="1.5"/>
<line x1="75.4" y1="185.5" x2="75.4" y2="203.9" stroke="#141414" stroke-width="1.25"/>
<line x1="77.0" y1="185.5" x2="77.0" y2="198.3" stroke="#000" stroke-width="1.5"/>
<line x1="78.6" y1="182.0" x2="78.6" y2="191.7" stroke="#141414" stroke-width="1.25"/>
<line x1="80.2" y1="181.7" x2="80.2" y2="192.6" stroke="#000" stroke-width="1.5"/>
<line x1="81.8" y1="184.1" x2="81.8" y2="197.2" stroke="#000" stroke-width="1.5"/>
<line x1="83.4" y1="186.8" x2="83.4" y2="204.7" stroke="#000" stroke-width="1.5"/>
<line x1="85.0" y1="197.4" x2="85.0" y2="210.3" stroke="#000" stroke-width="1.5"/>
<line x1="86.6" y1="200.8" x2="86.6" y2="213.5" stroke="#141414" stroke-width="1.25"/>
<line x1="88.2" y1="201.2" x2="88.2" y2="213.3" stroke="#000" stroke-width="1.5"/>
<line x1="89.8" y1="200.2" x2="89.8" y2="210.7" stroke="#141414" stroke-width="1.25"/>
<line x1="91.4" y1="196.4" x2="91.4" y2="203.2" stroke="#141414" stroke-width="1.25"/>
<line x1="93.0" y1="191.6" x2="93.0" y2="196.8" stroke="#141414" stroke-width="1.25"/>
<line x1="94.6" y1="185.1" x2="94.6" y2="191.7" stroke="#141414" stroke-width="1.25"/>
<line x1="96.2" y1="180.4" x2="96.2" y2="193.8" stroke="#000" stroke-width="1.5"/>
<line x1="97.8" y1="162.9" x2="97.8" y2="185.3" stroke="#141414" stroke-width="1.25"/>
<line x1="99.4" y1="144.2" x2="99.4" y2="169.7" stroke="#141414" stroke-width="1.25"/>
<line x1="101.0" y1="143.1" x2="101.0" y2="165.7" stroke="#000" stroke-width="1.5"/>
<line x1="102.6" y1="142.8" x2="102.6" y2="165.7" stroke="#141414" stroke-width="1.25"/>
<line x1="104.2" y1="159.2" x2="104.2" y2="176.8" stroke="#000" stroke-width="1.5"/>
<line x1="105.8" y1="171.5" x2="105.8" y2="191.6" stroke="#000" stroke-width="1.5"/>
<line x1="107.4" y1="177.6" x2="107.4" y2="191.6" stroke="#141414" stroke-width="1.25"/>
<line x1="109.0" y1="182.9" x2="109.0" y2="197.9" stroke="#000" stroke-width="1.5"/>
<line x1="110.6" y1="178.3" x2="110.6" y2="190.3" stroke="#141414" stroke-width="1.25"/>
<line x1="112.2" y1="170.8" x2="112.2" y2="181.2" stroke="#141414" stroke-width="1.25"/>
<line x1="113.8" y1="159.9" x2="113.8" y2="179.9" stroke="#141414" stroke-width="1.25"/>
<line x1="115.4" y1="160.4" x2="115.4" y2="171.6" stroke="#000" stroke-width="1.5"/>
<line x1="117.0" y1="162.6" x2="117.0" y2="171.1" stroke="#141414" stroke-width="1.25"/>
<line x1="118.6" y1="154.9" x2="118.6" y2="167.4" stroke="#141414" stroke-width="1.25"/>
<line x1="120.2" y1="152.5" x2="120.2" y2="166.8" stroke="#000" stroke-width="1.5"/>
<line x1="121.8" y1="156.5" x2="121.8" y2="166.8" stroke="#141414" stroke-width="1.25"/>
<line x1="123.4" y1="163.1" x2="123.4" y2="170.7" stroke="#000" stroke-width="1.5"/>
<line x1="125.0" y1="164.4" x2="125.0" y2="169.1" stroke="#141414" stroke-width="1.25"/>
<line x1="126.6" y1="161.7" x2="126.6" y2="165.7" stroke="#141414" stroke-width="1.25"/>
<line x1="128.2" y1="160.7" x2="128.2" y2="166.1" stroke="#000" stroke-width="1.5"/>
<line x1="129.8" y1="159.6" x2="129.8" y2="165.0" stroke="#141414" stroke-width="1.25"/>
<line x1="131.4" y1="160.9" x2="131.4" y2="166.9" stroke="#000" stroke-width="1.5"/>
<line x1="133.0" y1="159.1" x2="133.0" y2="166.5" stroke="#141414" stroke-width="1.25"/>
<line x1="134.6" y1="159.1" x2="134.6" y2="165.9" stroke="#000" stroke-width="1.5"/>
<line x1="136.2" y1="164.6" x2="136.2" y2="170.1" stroke="#000" stroke-width="1.5"/>
<line x1="137.8" y1="169.3" x2="137.8" y2="172.7" stroke="#000" stroke-width="1.5"/>
<line x1="139.4" y1="170.2" x2="139.4" y2="176.5" stroke="#000" stroke-width="1.5"/>
<line x1="141.0" y1="171.1" x2="141.0" y2="178.2" stroke="#000" stroke-width="1.5"/>
<line x1="142.6" y1="174.2" x2="142.6" y2="178.2" stroke="#141414" stroke-width="1.25"/>
<line x1="144.2" y1="175.8" x2="144.2" y2="181.0" stroke="#000" stroke-width="1.5"/>
<line x1="145.8" y1="175.6" x2="145.8" y2="181.8" stroke="#141414" stroke-width="1.25"/>
<line x1="147.4" y1="176.6" x2="147.4" y2="183.6" stroke="#000" stroke-width="1.5"/>
<line x1="149.0" y1="176.0" x2="149.0" y2="183.9" stroke="#141414" stroke-width="1.25"/>
<line x1="150.6" y1="179.1" x2="150.6" y2="188.1" stroke="#000" stroke-width="1.5"/>
<line x1="152.2" y1="180.6" x2="152.2" y2="190.5" stroke="#141414" stroke-width="1.25"/>
<line x1="153.8" y1="184.8" x2="153.8" y2="197.5" stroke="#000" stroke-width="1.5"/>
<line x1="155.4" y1="189.1" x2="155.4" y2="203.3" stroke="#000" stroke-width="1.5"/>
<line x1="157.0" y1="193.0" x2="157.0" y2="203.3" stroke="#141414" stroke-width="1.25"/>
<line x1="158.6" y1="202.0" x2="158.6" y2="218.3" stroke="#000" stroke-width="1.5"/>
<line x1="160.2" y1="213.0" x2="160.2" y2="237.4" stroke="#000" stroke-width="1.5"/>
<line x1="161.8" y1="219.4" x2="161.8" y2="237.4" stroke="#141414" stroke-width="1.25"/>
<line x1="163.4" y1="226.0" x2="163.4" y2="237.5" stroke="#000" stroke-width="1.5"/>
<line x1="165.0" y1="230.4" x2="165.0" y2="241.8" stroke="#000" stroke-width="1.5"/>
<line x1="166.6" y1="228.8" x2="166.6" y2="238.5" stroke="#141414" stroke-width="1.25"/>
<line x1="168.2" y1="231.9" x2="168.2" y2="241.5" stroke="#000" stroke-width="1.5"/>
<line x1="169.8" y1="231.9" x2="169.8" y2="241.5" stroke="#141414" stroke-width="1.25"/>
<line x1="171.4" y1="231.9" x2="171.4" y2="243.6" stroke="#000" stroke-width="1.5"/>
<line x1="173.0" y1="235.0" x2="173.0" y2="252.3" stroke="#000" stroke-width="1.5"/>
<line x1="174.6" y1="234.1" x2="174.6" y2="254.9" stroke="#141414" stroke-width="1.25"/>
<line x1="176.2" y1="234.6" x2="176.2" y2="254.5" stroke="#000" stroke-width="1.5"/>
<line x1="177.8" y1="229.9" x2="177.8" y2="249.2" stroke="#141414" stroke-width="1.25"/>
<line x1="179.4" y1="229.7" x2="179.4" y2="247.3" stroke="#000" stroke-width="1.5"/>
<line x1="181.0" y1="220.9" x2="181.0" y2="242.0" stroke="#141414" stroke-width="1.25"/>
<line x1="182.6" y1="230.1" x2="182.6" y2="243.6" stroke="#000" stroke-width="1.5"/>
<line x1="184.2" y1="231.7" x2="184.2" y2="242.6" stroke="#141414" stroke-width="1.25"/>
<line x1="185.8" y1="229.9" x2="185.8" y2="241.4" stroke="#141414" stroke-width="1.25"/>
<line x1="187.4" y1="225.6" x2="187.4" y2="242.7" stroke="#141414" stroke-width="1.25"/>
<line x1="189.0" y1="227.3" x2="189.0" y2="243.4" stroke="#000" stroke-width="1.5"/>
<line x1="190.6" y1="214.0" x2="190.6" y2="232.3" stroke="#141414" stroke-width="1.25"/>
<line x1="192.2" y1="212.8" x2="192.2" y2="225.2" stroke="#000" stroke-width="1.5"/>
<line x1="193.8" y1="209.9" x2="193.8" y2="217.7" stroke="#141414" stroke-width="1.25"/>
<line x1="195.4" y1="207.5" x2="195.4" y2="215.9" stroke="#000" stroke-width="1.5"/>
<line x1="197.0" y1="204.7" x2="197.0" y2="214.6" stroke="#141414" stroke-width="1.25"/>
<line x1="198.6" y1="205.4" x2="198.6" y2="213.7" stroke="#000" stroke-width="1.5"/>
<line x1="200.2" y1="207.5" x2="200.2" y2="213.7" stroke="#141414" stroke-width="1.25"/>
<line x1="201.8" y1="209.5" x2="201.8" y2="217.6" stroke="#000" stroke-width="1.5"/>
<line x1="203.4" y1="209.2" x2="203.4" y2="216.2" stroke="#141414" stroke-width="1.25"/>
<line x1="205.0" y1="208.9" x2="205.0" y2="216.1" stroke="#000" stroke-width="1.5"/>
<line x1="206.6" y1="207.3" x2="206.6" y2="214.2" stroke="#141414" stroke-width="1.25"/>
<line x1="208.2" y1="207.6" x2="208.2" y2="213.4" stroke="#000" stroke-width="1.5"/>
<line x1="209.8" y1="207.6" x2="209.8" y2="213.4" stroke="#141414" stroke-width="1.25"/>
<line x1="211.4" y1="207.6" x2="211.4" y2="214.4" stroke="#000" stroke-width="1.5"/>
<line x1="213.0" y1="207.8" x2="213.0" y2="215.0" stroke="#141414" stroke-width="1.25"/>
<line x1="214.6" y1="209.3" x2="214.6" y2="218.5" stroke="#000" stroke-width="1.5"/>
<line x1="216.2" y1="208.6" x2="216.2" y2="218.5" stroke="#141414" stroke-width="1.25"/>
<line x1="217.8" y1="209.8" x2="217.8" y2="218.8" stroke="#000" stroke-width="1.5"/>
<line x1="219.4" y1="210.5" x2="219.4" y2="216.8" stroke="#141414" stroke-width="1.25"/>
<line x1="221.0" y1="206.2" x2="221.0" y2="211.6" stroke="#141414" stroke-width="1.25"/>
<line x1="222.6" y1="201.4" x2="222.6" y2="210.5" stroke="#141414" stroke-width="1.25"/>
<line x1="224.2" y1="198.8" x2="224.2" y2="209.3" stroke="#000" stroke-width="1.5"/>
<line x1="225.8" y1="196.5" x2="225.8" y2="204.3" stroke="#141414" stroke-width="1.25"/>
<line x1="227.4" y1="196.5" x2="227.4" y2="203.7" stroke="#000" stroke-width="1.5"/>
<line x1="229.0" y1="201.3" x2="229.0" y2="216.1" stroke="#000" stroke-width="1.5"/>
<line x1="230.6" y1="216.1" x2="230.6" y2="236.6" stroke="#000" stroke-width="1.5"/>
<line x1="232.2" y1="222.0" x2="232.2" y2="245.2" stroke="#000" stroke-width="1.5"/>
<line x1="233.8" y1="231.5" x2="233.8" y2="245.2" stroke="#141414" stroke-width="1.25"/>
<line x1="235.4" y1="235.3" x2="235.4" y2="248.5" stroke="#000" stroke-width="1.5"/>
<line x1="237.0" y1="231.0" x2="237.0" y2="244.9" stroke="#141414" stroke-width="1.25"/>
<line x1="238.6" y1="230.8" x2="238.6" y2="249.8" stroke="#000" stroke-width="1.5"/>
<line x1="240.2" y1="239.9" x2="240.2" y2="257.0" stroke="#000" stroke-width="1.5"/>
<line x1="241.8" y1="249.7" x2="241.8" y2="267.7" stroke="#000" stroke-width="1.5"/>
<line x1="243.4" y1="260.8" x2="243.4" y2="276.6" stroke="#000" stroke-width="1.5"/>
<line x1="245.0" y1="272.3" x2="245.0" y2="285.0" stroke="#000" stroke-width="1.5"/>
<line x1="246.6" y1="279.4" x2="246.6" y2="292.4" stroke="#000" stroke-width="1.5"/>
<line x1="248.2" y1="279.1" x2="248.2" y2="292.4" stroke="#141414" stroke-width="1.25"/>
<line x1="249.8" y1="283.0" x2="249.8" y2="296.6" stroke="#000" stroke-width="1.5"/>
<line x1="251.4" y1="274.1" x2="251.4" y2="289.2" stroke="#141414" stroke-width="1.25"/>
<line x1="253.0" y1="261.2" x2="253.0" y2="276.9" stroke="#141414" stroke-width="1.25"/>
<line x1="254.6" y1="264.7" x2="254.6" y2="276.0" stroke="#000" stroke-width="1.5"/>
<line x1="256.2" y1="223.0" x2="256.2" y2="271.1" stroke="#141414" stroke-width="1.25"/>
<line x1="257.8" y1="223.0" x2="257.8" y2="259.0" stroke="#000" stroke-width="1.5"/>
<line x1="259.4" y1="220.1" x2="259.4" y2="241.6" stroke="#141414" stroke-width="1.25"/>
<line x1="261.0" y1="218.9" x2="261.0" y2="232.3" stroke="#000" stroke-width="1.5"/>
<line x1="262.6" y1="221.4" x2="262.6" y2="232.3" stroke="#141414" stroke-width="1.25"/>
<line x1="264.2" y1="216.0" x2="264.2" y2="226.1" stroke="#141414" stroke-width="1.25"/>
<line x1="265.8" y1="209.6" x2="265.8" y2="221.0" stroke="#141414" stroke-width="1.25"/>
<line x1="267.4" y1="208.2" x2="267.4" y2="221.5" stroke="#000" stroke-width="1.5"/>
<line x1="269.0" y1="206.3" x2="269.0" y2="216.8" stroke="#141414" stroke-width="1.25"/>
<line x1="270.6" y1="201.8" x2="270.6" y2="210.6" stroke="#141414" stroke-width="1.25"/>
<line x1="272.2" y1="202.0" x2="272.2" y2="211.0" stroke="#000" stroke-width="1.5"/>
<line x1="273.8" y1="200.9" x2="273.8" y2="214.6" stroke="#141414" stroke-width="1.25"/>
<line x1="275.4" y1="203.0" x2="275.4" y2="212.5" stroke="#000" stroke-width="1.5"/>
<line x1="277.0" y1="205.0" x2="277.0" y2="213.0" stroke="#000" stroke-width="1.5"/>
<line x1="278.6" y1="201.7" x2="278.6" y2="213.0" stroke="#141414" stroke-width="1.25"/>
<line x1="280.2" y1="204.7" x2="280.2" y2="215.1" stroke="#000" stroke-width="1.5"/>
<line x1="281.8" y1="208.7" x2="281.8" y2="213.5" stroke="#141414" stroke-width="1.25"/>
<line x1="283.4" y1="204.5" x2="283.4" y2="209.9" stroke="#141414" stroke-width="1.25"/>
<line x1="285.0" y1="203.2" x2="285.0" y2="207.9" stroke="#141414" stroke-width="1.25"/>
<line x1="286.6" y1="198.3" x2="286.6" y2="206.0" stroke="#141414" stroke-width="1.25"/>
<line x1="288.2" y1="186.7" x2="288.2" y2="201.9" stroke="#141414" stroke-width="1.25"/>
<line x1="289.8" y1="186.8" x2="289.8" y2="197.1" stroke="#000" stroke-width="1.5"/>
<line x1="291.4" y1="180.7" x2="291.4" y2="193.5" stroke="#141414" stroke-width="1.25"/>
<line x1="293.0" y1="180.7" x2="293.0" y2="189.9" stroke="#000" stroke-width="1.5"/>
<line x1="294.6" y1="178.9" x2="294.6" y2="188.1" stroke="#141414" stroke-width="1.25"/>
<line x1="296.2" y1="180.4" x2="296.2" y2="188.0" stroke="#000" stroke-width="1.5"/>
<line x1="297.8" y1="180.8" x2="297.8" y2="188.3" stroke="#141414" stroke-width="1.25"/>
<line x1="299.4" y1="182.4" x2="299.4" y2="191.6" stroke="#000" stroke-width="1.5"/>
<line x1="301.0" y1="182.0" x2="301.0" y2="192.1" stroke="#141414" stroke-width="1.25"/>
<line x1="302.6" y1="182.0" x2="302.6" y2="189.3" stroke="#000" stroke-width="1.5"/>
<line x1="304.2" y1="179.7" x2="304.2" y2="186.7" stroke="#141414" stroke-width="1.25"/>
<line x1="305.8" y1="176.7" x2="305.8" y2="187.3" stroke="#000" stroke-width="1.5"/>
<line x1="307.4" y1="176.4" x2="307.4" y2="187.3" stroke="#141414" stroke-width="1.25"/>
<line x1="309.0" y1="184.3" x2="309.0" y2="194.6" stroke="#000" stroke-width="1.5"/>
<line x1="310.6" y1="192.1" x2="310.6" y2="211.4" stroke="#000" stroke-width="1.5"/>
<line x1="312.2" y1="203.9" x2="312.2" y2="220.8" stroke="#000" stroke-width="1.5"/>
<line x1="313.8" y1="205.8" x2="313.8" y2="220.8" stroke="#141414" stroke-width="1.25"/>
<line x1="315.4" y1="205.3" x2="315.4" y2="220.3" stroke="#000" stroke-width="1.5"/>
<line x1="317.0" y1="205.5" x2="317.0" y2="219.6" stroke="#141414" stroke-width="1.25"/>
<line x1="318.6" y1="213.3" x2="318.6" y2="226.3" stroke="#000" stroke-width="1.5"/>
<line x1="320.2" y1="207.4" x2="320.2" y2="218.7" stroke="#141414" stroke-width="1.25"/>
<line x1="321.8" y1="199.4" x2="321.8" y2="208.5" stroke="#141414" stroke-width="1.25"/>
<line x1="323.4" y1="189.7" x2="323.4" y2="206.5" stroke="#141414" stroke-width="1.25"/>
<line x1="325.0" y1="189.7" x2="325.0" y2="196.0" stroke="#000" stroke-width="1.5"/>
<line x1="326.6" y1="192.1" x2="326.6" y2="200.4" stroke="#141414" stroke-width="1.25"/>
<line x1="328.2" y1="192.1" x2="328.2" y2="201.5" stroke="#000" stroke-width="1.5"/>
<line x1="329.8" y1="175.1" x2="329.8" y2="194.0" stroke="#141414" stroke-width="1.25"/>
<line x1="331.4" y1="173.4" x2="331.4" y2="189.9" stroke="#000" stroke-width="1.5"/>
<line x1="333.0" y1="163.9" x2="333.0" y2="178.4" stroke="#141414" stroke-width="1.25"/>
<line x1="334.6" y1="147.6" x2="334.6" y2="169.6" stroke="#141414" stroke-width="1.25"/>
<line x1="336.2" y1="148.1" x2="336.2" y2="160.7" stroke="#000" stroke-width="1.5"/>
<line x1="337.8" y1="138.3" x2="337.8" y2="150.2" stroke="#141414" stroke-width="1.25"/>
<line x1="339.4" y1="135.4" x2="339.4" y2="145.1" stroke="#141414" stroke-width="1.25"/>
<line x1="341.0" y1="135.3" x2="341.0" y2="142.6" stroke="#000" stroke-width="1.5"/>
<line x1="342.6" y1="133.2" x2="342.6" y2="141.0" stroke="#141414" stroke-width="1.25"/>
<line x1="344.2" y1="136.1" x2="344.2" y2="144.2" stroke="#000" stroke-width="1.5"/>
<line x1="345.8" y1="136.4" x2="345.8" y2="146.0" stroke="#141414" stroke-width="1.25"/>
<line x1="347.4" y1="142.6" x2="347.4" y2="152.5" stroke="#000" stroke-width="1.5"/>
<line x1="349.0" y1="148.7" x2="349.0" y2="162.7" stroke="#000" stroke-width="1.5"/>
<line x1="350.6" y1="152.5" x2="350.6" y2="168.0" stroke="#000" stroke-width="1.5"/>
<line x1="352.2" y1="159.5" x2="352.2" y2="171.1" stroke="#141414" stroke-width="1.25"/>
<line x1="353.8" y1="162.9" x2="353.8" y2="171.6" stroke="#000" stroke-width="1.5"/>
<line x1="355.4" y1="159.6" x2="355.4" y2="172.2" stroke="#141414" stroke-width="1.25"/>
<line x1="357.0" y1="156.5" x2="357.0" y2="167.0" stroke="#141414" stroke-width="1.25"/>
<line x1="358.6" y1="154.0" x2="358.6" y2="161.0" stroke="#141414" stroke-width="1.25"/>
<line x1="360.2" y1="151.6" x2="360.2" y2="159.3" stroke="#141414" stroke-width="1.25"/>
<line x1="361.8" y1="148.2" x2="361.8" y2="155.5" stroke="#141414" stroke-width="1.25"/>
<line x1="363.4" y1="146.0" x2="363.4" y2="155.5" stroke="#141414" stroke-width="1.25"/>
<line x1="365.0" y1="145.8" x2="365.0" y2="154.3" stroke="#000" stroke-width="1.5"/>
<line x1="366.6" y1="143.1" x2="366.6" y2="152.1" stroke="#141414" stroke-width="1.25"/>
<line x1="368.2" y1="141.6" x2="368.2" y2="150.6" stroke="#141414" stroke-width="1.25"/>
<line x1="369.8" y1="124.3" x2="369.8" y2="146.6" stroke="#141414" stroke-width="1.25"/>
<line x1="371.4" y1="96.2" x2="371.4" y2="144.6" stroke="#141414" stroke-width="1.25"/>
<line x1="373.0" y1="103.2" x2="373.0" y2="117.6" stroke="#000" stroke-width="1.5"/>
<line x1="374.6" y1="101.6" x2="374.6" y2="112.0" stroke="#141414" stroke-width="1.25"/>
<line x1="376.2" y1="101.3" x2="376.2" y2="109.0" stroke="#000" stroke-width="1.5"/>
<line x1="377.8" y1="98.3" x2="377.8" y2="105.6" stroke="#141414" stroke-width="1.25"/>
<line x1="379.4" y1="99.2" x2="379.4" y2="106.5" stroke="#000" stroke-width="1.5"/>
<line x1="381.0" y1="104.7" x2="381.0" y2="112.9" stroke="#000" stroke-width="1.5"/>
<line x1="382.6" y1="109.2" x2="382.6" y2="121.3" stroke="#000" stroke-width="1.5"/>
<line x1="384.2" y1="110.7" x2="384.2" y2="121.3" stroke="#141414" stroke-width="1.25"/>
<line x1="385.8" y1="116.8" x2="385.8" y2="128.4" stroke="#000" stroke-width="1.5"/>
<line x1="387.4" y1="120.6" x2="387.4" y2="136.4" stroke="#000" stroke-width="1.5"/>
<line x1="389.0" y1="121.9" x2="389.0" y2="136.4" stroke="#141414" stroke-width="1.25"/>
<line x1="390.6" y1="126.3" x2="390.6" y2="140.2" stroke="#000" stroke-width="1.5"/>
<line x1="392.2" y1="129.4" x2="392.2" y2="137.9" stroke="#141414" stroke-width="1.25"/>
<line x1="393.8" y1="129.4" x2="393.8" y2="135.8" stroke="#000" stroke-width="1.5"/>
<line x1="395.4" y1="125.0" x2="395.4" y2="135.2" stroke="#141414" stroke-width="1.25"/>
<line x1="397.0" y1="102.3" x2="397.0" y2="125.0" stroke="#141414" stroke-width="1.25"/>
<line x1="398.6" y1="86.9" x2="398.6" y2="115.0" stroke="#141414" stroke-width="1.25"/>
<line x1="400.2" y1="86.9" x2="400.2" y2="96.2" stroke="#000" stroke-width="1.5"/>
<line x1="401.8" y1="85.4" x2="401.8" y2="95.1" stroke="#141414" stroke-width="1.25"/>
<line x1="403.4" y1="84.0" x2="403.4" y2="93.9" stroke="#000" stroke-width="1.5"/>
<line x1="405.0" y1="82.1" x2="405.0" y2="95.9" stroke="#141414" stroke-width="1.25"/>
<line x1="406.6" y1="84.2" x2="406.6" y2="101.3" stroke="#000" stroke-width="1.5"/>
<line x1="408.2" y1="87.7" x2="408.2" y2="101.3" stroke="#141414" stroke-width="1.25"/>
<line x1="409.8" y1="91.4" x2="409.8" y2="108.3" stroke="#000" stroke-width="1.5"/>
<line x1="411.4" y1="96.5" x2="411.4" y2="110.2" stroke="#141414" stroke-width="1.25"/>
<line x1="413.0" y1="96.5" x2="413.0" y2="115.5" stroke="#000" stroke-width="1.5"/>
<line x1="414.6" y1="92.3" x2="414.6" y2="116.3" stroke="#141414" stroke-width="1.25"/>
<line x1="416.2" y1="92.3" x2="416.2" y2="117.7" stroke="#000" stroke-width="1.5"/>
<line x1="417.8" y1="85.4" x2="417.8" y2="108.1" stroke="#141414" stroke-width="1.25"/>
<line x1="419.4" y1="76.5" x2="419.4" y2="91.3" stroke="#141414" stroke-width="1.25"/>
<line x1="421.0" y1="80.5" x2="421.0" y2="91.6" stroke="#000" stroke-width="1.5"/>
<line x1="422.6" y1="76.2" x2="422.6" y2="85.4" stroke="#141414" stroke-width="1.25"/>
<line x1="424.2" y1="66.7" x2="424.2" y2="76.2" stroke="#141414" stroke-width="1.25"/>
<line x1="425.8" y1="60.2" x2="425.8" y2="71.0" stroke="#000" stroke-width="1.5"/>
<line x1="427.4" y1="58.1" x2="427.4" y2="67.8" stroke="#141414" stroke-width="1.25"/>
<line x1="429.0" y1="57.7" x2="429.0" y2="68.5" stroke="#000" stroke-width="1.5"/>
<line x1="430.6" y1="57.2" x2="430.6" y2="65.8" stroke="#141414" stroke-width="1.25"/>
<line x1="432.2" y1="54.8" x2="432.2" y2="63.4" stroke="#000" stroke-width="1.5"/>
<line x1="433.8" y1="57.7" x2="433.8" y2="63.8" stroke="#141414" stroke-width="1.25"/>
<line x1="435.4" y1="60.1" x2="435.4" y2="67.6" stroke="#000" stroke-width="1.5"/>
<line x1="437.0" y1="60.6" x2="437.0" y2="66.0" stroke="#141414" stroke-width="1.25"/>
<line x1="438.6" y1="59.2" x2="438.6" y2="65.3" stroke="#000" stroke-width="1.5"/>
<line x1="440.2" y1="59.0" x2="440.2" y2="65.4" stroke="#141414" stroke-width="1.25"/>
<line x1="441.8" y1="61.0" x2="441.8" y2="66.6" stroke="#000" stroke-width="1.5"/>
<line x1="443.4" y1="58.4" x2="443.4" y2="66.3" stroke="#141414" stroke-width="1.25"/>
<line x1="445.0" y1="52.8" x2="445.0" y2="62.9" stroke="#141414" stroke-width="1.25"/>
<line x1="446.6" y1="47.0" x2="446.6" y2="56.7" stroke="#141414" stroke-width="1.25"/>
<line x1="448.2" y1="51.5" x2="448.2" y2="57.4" stroke="#000" stroke-width="1.5"/>
<line x1="449.8" y1="45.2" x2="449.8" y2="55.0" stroke="#141414" stroke-width="1.25"/>
<line x1="451.4" y1="43.7" x2="451.4" y2="54.0" stroke="#000" stroke-width="1.5"/>
<line x1="453.0" y1="43.0" x2="453.0" y2="49.6" stroke="#141414" stroke-width="1.25"/>
<line x1="454.6" y1="43.4" x2="454.6" y2="49.1" stroke="#000" stroke-width="1.5"/>
<line x1="456.2" y1="42.0" x2="456.2" y2="49.5" stroke="#141414" stroke-width="1.25"/>
<line x1="457.8" y1="41.0" x2="457.8" y2="49.0" stroke="#000" stroke-width="1.5"/>
<line x1="459.4" y1="39.3" x2="459.4" y2="46.6" stroke="#141414" stroke-width="1.25"/>
<line x1="461.0" y1="40.1" x2="461.0" y2="51.5" stroke="#000" stroke-width="1.5"/>
<line x1="462.6" y1="51.5" x2="462.6" y2="65.7" stroke="#000" stroke-width="1.5"/>
<line x1="464.2" y1="57.1" x2="464.2" y2="65.7" stroke="#141414" stroke-width="1.25"/>
<line x1="465.8" y1="45.7" x2="465.8" y2="63.7" stroke="#000" stroke-width="1.5"/>
<line x1="467.4" y1="48.8" x2="467.4" y2="59.2" stroke="#000" stroke-width="1.5"/>
<line x1="469.0" y1="49.8" x2="469.0" y2="65.4" stroke="#000" stroke-width="1.5"/>
<line x1="470.6" y1="63.9" x2="470.6" y2="74.9" stroke="#000" stroke-width="1.5"/>
<line x1="472.2" y1="68.2" x2="472.2" y2="80.1" stroke="#141414" stroke-width="1.25"/>
<line x1="473.8" y1="70.4" x2="473.8" y2="77.8" stroke="#000" stroke-width="1.5"/>
<line x1="475.4" y1="70.3" x2="475.4" y2="77.5" stroke="#141414" stroke-width="1.25"/>
<line x1="477.0" y1="71.6" x2="477.0" y2="78.6" stroke="#000" stroke-width="1.5"/>
<line x1="478.6" y1="74.4" x2="478.6" y2="85.1" stroke="#000" stroke-width="1.5"/>
<line x1="480.2" y1="78.5" x2="480.2" y2="85.1" stroke="#141414" stroke-width="1.25"/>
<line x1="481.8" y1="80.4" x2="481.8" y2="94.2" stroke="#000" stroke-width="1.5"/>
<line x1="483.4" y1="86.8" x2="483.4" y2="106.7" stroke="#000" stroke-width="1.5"/>
<line x1="485.0" y1="105.1" x2="485.0" y2="119.2" stroke="#000" stroke-width="1.5"/>
<line x1="486.6" y1="111.3" x2="486.6" y2="127.6" stroke="#000" stroke-width="1.5"/>
<line x1="488.2" y1="113.5" x2="488.2" y2="127.6" stroke="#141414" stroke-width="1.25"/>
<line x1="489.8" y1="115.1" x2="489.8" y2="133.0" stroke="#000" stroke-width="1.5"/>
<line x1="491.4" y1="105.8" x2="491.4" y2="120.5" stroke="#141414" stroke-width="1.25"/>
<line x1="493.0" y1="105.1" x2="493.0" y2="117.7" stroke="#000" stroke-width="1.5"/>
<line x1="494.6" y1="106.1" x2="494.6" y2="114.7" stroke="#141414" stroke-width="1.25"/>
<line x1="496.2" y1="107.0" x2="496.2" y2="114.8" stroke="#000" stroke-width="1.5"/>
<line x1="497.8" y1="101.7" x2="497.8" y2="113.3" stroke="#141414" stroke-width="1.25"/>
<line x1="499.4" y1="104.8" x2="499.4" y2="115.8" stroke="#000" stroke-width="1.5"/>
<line x1="501.0" y1="106.8" x2="501.0" y2="115.1" stroke="#141414" stroke-width="1.25"/>
<line x1="502.6" y1="106.8" x2="502.6" y2="113.8" stroke="#000" stroke-width="1.5"/>
<line x1="504.2" y1="106.0" x2="504.2" y2="112.5" stroke="#141414" stroke-width="1.25"/>
<line x1="505.8" y1="102.9" x2="505.8" y2="111.2" stroke="#000" stroke-width="1.5"/>
<line x1="507.4" y1="103.6" x2="507.4" y2="111.2" stroke="#141414" stroke-width="1.25"/>
<line x1="509.0" y1="105.0" x2="509.0" y2="115.8" stroke="#000" stroke-width="1.5"/>
<line x1="510.6" y1="106.6" x2="510.6" y2="113.9" stroke="#141414" stroke-width="1.25"/>
<line x1="515.2" y1="120.0" x2="515.2" y2="127.6" stroke="#505050" stroke-width="0.9"/>
<line x1="516.8" y1="121.2" x2="516.8" y2="127.7" stroke="#505050" stroke-width="0.9"/>
<line x1="518.4" y1="120.9" x2="518.4" y2="126.0" stroke="#505050" stroke-width="0.9"/>
<line x1="520.0" y1="119.7" x2="520.0" y2="125.5" stroke="#505050" stroke-width="0.9"/>
<line x1="521.6" y1="118.3" x2="521.6" y2="125.0" stroke="#505050" stroke-width="0.9"/>
<line x1="523.2" y1="119.0" x2="523.2" y2="127.1" stroke="#505050" stroke-width="0.9"/>
<line x1="524.8" y1="118.9" x2="524.8" y2="126.6" stroke="#505050" stroke-width="0.9"/>
<line x1="526.4" y1="120.7" x2="526.4" y2="129.9" stroke="#505050" stroke-width="0.9"/>
<line x1="528.0" y1="120.1" x2="528.0" y2="128.0" stroke="#505050" stroke-width="0.9"/>
<line x1="529.6" y1="119.7" x2="529.6" y2="128.2" stroke="#505050" stroke-width="0.9"/>
<line x1="531.2" y1="121.6" x2="531.2" y2="130.6" stroke="#505050" stroke-width="0.9"/>
<line x1="515.2" y1="120.0" x2="515.2" y2="127.6" stroke="#141414" stroke-width="1.25"/>
<line x1="516.8" y1="121.8" x2="516.8" y2="127.7" stroke="#000" stroke-width="1.5"/>
<line x1="518.4" y1="120.9" x2="518.4" y2="125.9" stroke="#141414" stroke-width="1.25"/>
<line x1="520.0" y1="119.7" x2="520.0" y2="125.5" stroke="#000" stroke-width="1.5"/>
<line x1="521.6" y1="118.5" x2="521.6" y2="124.8" stroke="#141414" stroke-width="1.25"/>
<line x1="523.2" y1="119.1" x2="523.2" y2="126.2" stroke="#000" stroke-width="1.5"/>
<line x1="524.8" y1="118.9" x2="524.8" y2="126.2" stroke="#141414" stroke-width="1.25"/>
<line x1="526.4" y1="121.5" x2="526.4" y2="129.9" stroke="#000" stroke-width="1.5"/>
<line x1="528.0" y1="120.1" x2="528.0" y2="128.0" stroke="#141414" stroke-width="1.25"/>
<line x1="529.6" y1="120.3" x2="529.6" y2="128.2" stroke="#000" stroke-width="1.5"/>
<line x1="531.2" y1="121.6" x2="531.2" y2="130.6" stroke="#141414" stroke-width="1.25"/>
<line x1="99.0" y1="142.0" x2="99.0" y2="163.0" stroke="#000" stroke-width="1.3"/>
<line x1="100.7" y1="140.0" x2="100.7" y2="158.0" stroke="#000" stroke-width="1.2"/>
<line x1="102.0" y1="139.8" x2="102.0" y2="176.0" stroke="#000" stroke-width="1.5"/>
<line x1="103.5" y1="144.0" x2="103.5" y2="184.0" stroke="#000" stroke-width="1.5"/>
<line x1="105.0" y1="159.0" x2="105.0" y2="192.0" stroke="#000" stroke-width="1.4"/>
<line x1="99.0" y1="163.0" x2="99.0" y2="200.0" stroke="#666" stroke-width="0.8"/>
<line x1="30.0" y1="34.7" x2="574.0" y2="34.7" stroke="#089008" stroke-width="1.8"/>
<line x1="30.0" y1="64.4" x2="574.0" y2="64.4" stroke="#089008" stroke-width="1.8"/>
<line x1="30.0" y1="93.1" x2="574.0" y2="93.1" stroke="#0000ff" stroke-width="1.8"/>
<line x1="30.0" y1="145.3" x2="574.0" y2="145.3" stroke="#ff0000" stroke-width="1.8"/>
<line x1="30.0" y1="175.0" x2="574.0" y2="175.0" stroke="#ff0000" stroke-width="1.8"/>
<path d="M30.6,205.6 C32.2,206.1 37.4,208.0 40.0,208.6 C42.6,209.2 43.7,209.8 46.0,209.0 C48.3,208.2 50.7,206.1 53.8,204.0 C56.9,201.9 61.0,198.7 64.6,196.3 C68.2,193.9 72.1,191.2 75.4,189.4 C78.7,187.6 81.5,186.0 84.6,185.2 C87.7,184.4 91.1,185.3 93.9,184.7 C96.7,184.1 99.3,181.9 101.6,181.6 C103.9,181.3 106.2,182.7 107.8,183.0 C109.4,183.3 109.2,183.6 111.4,183.3 C113.6,183.0 117.4,181.8 120.7,181.0 C124.0,180.2 127.9,179.2 131.5,178.6 C135.1,178.0 138.5,177.8 142.3,177.6 C146.2,177.4 151.4,177.1 154.6,177.5 C157.8,177.9 158.6,178.8 161.6,180.0 C164.6,181.2 168.7,182.4 172.4,184.7 C176.1,187.0 179.9,191.3 184.0,194.0 C188.1,196.7 192.8,198.6 197.0,200.9 C201.2,203.2 205.5,205.8 209.4,207.8 C213.3,209.9 216.8,211.7 220.2,213.2 C223.5,214.7 226.9,215.7 229.5,217.0 C232.1,218.3 233.6,219.8 236.0,221.0 C238.4,222.2 241.1,222.6 243.7,224.0 C246.3,225.4 248.6,228.3 251.4,229.4 C254.2,230.5 256.8,230.5 260.7,230.5 C264.6,230.5 270.2,229.8 274.6,229.4 C279.0,229.0 283.1,228.8 287.0,227.9 C290.9,227.0 294.1,225.2 297.7,224.0 C301.3,222.8 304.9,222.0 308.5,221.0 C312.1,220.0 316.2,219.4 319.3,217.8 C322.4,216.2 324.9,213.8 327.0,211.7 C329.1,209.6 330.4,207.4 332.0,205.5 C333.6,203.6 335.2,201.8 336.7,200.0 C338.2,198.2 338.6,196.8 341.0,194.6 C343.4,192.4 348.4,188.8 351.0,187.0 C353.6,185.2 353.8,185.9 356.7,184.0 C359.6,182.1 364.9,178.6 368.3,175.6 C371.7,172.6 374.4,168.6 377.0,166.0 C379.6,163.4 381.3,162.2 383.7,160.0 C386.1,157.8 388.8,155.2 391.4,153.0 C393.9,150.8 396.7,149.4 399.0,147.0 C401.3,144.6 403.0,141.4 405.3,138.5 C407.6,135.6 410.9,131.4 413.0,129.3 C415.1,127.2 415.5,127.9 418.0,126.0 C420.5,124.1 424.8,120.8 428.0,117.7 C431.2,114.6 433.4,111.2 437.0,107.4 C440.6,103.6 445.9,98.7 449.7,94.6 C453.5,90.5 456.5,85.9 459.7,83.0 C462.9,80.1 466.1,78.8 468.7,77.0 C471.2,75.2 473.1,73.4 475.0,72.3 C476.9,71.2 478.4,70.5 480.3,70.4 C482.2,70.3 483.7,71.2 486.7,71.5 C489.7,71.8 494.9,71.5 498.3,72.5 C501.7,73.5 504.1,76.1 506.8,77.7 C509.5,79.3 511.9,80.6 514.5,82.3 C517.1,84.0 519.5,85.6 522.2,87.7 C524.9,89.8 529.3,93.5 530.7,94.7" fill="none" stroke="#2020ff" stroke-width="0.9" />
<path d="M30.6,196.3 C32.4,194.4 37.8,187.8 41.4,184.7 C45.0,181.6 49.6,179.0 52.2,178.0 C54.8,177.0 55.4,178.0 56.9,178.5 C58.4,179.0 58.9,180.9 61.5,181.0 C64.1,181.1 69.2,179.2 72.3,179.3 C75.4,179.4 77.4,180.1 80.0,181.6 C82.6,183.1 85.4,186.8 87.7,188.6 C90.0,190.4 92.1,192.3 93.9,192.4 C95.7,192.5 97.0,190.6 98.5,189.4 C100.0,188.2 101.4,186.2 103.2,185.5 C105.0,184.8 107.2,186.4 109.3,185.5 C111.3,184.6 113.9,181.4 115.5,180.0 C117.1,178.6 117.4,178.8 119.0,177.0 C120.6,175.2 123.6,171.0 125.3,169.4 C127.0,167.8 127.6,167.4 129.0,167.5 C130.4,167.6 132.4,169.9 133.8,170.0 C135.2,170.1 136.3,168.5 137.7,167.8 C139.1,167.1 140.8,165.9 142.3,165.8 C143.9,165.7 145.4,166.1 147.0,167.0 C148.6,167.9 150.1,169.3 151.6,171.0 C153.1,172.7 154.8,175.2 156.2,177.0 C157.6,178.8 157.6,177.5 160.0,182.0 C162.4,186.5 167.9,198.2 170.9,204.0 C173.9,209.8 175.8,213.1 177.8,216.8 C179.9,220.5 181.3,223.2 183.2,226.0 C185.1,228.8 187.2,232.8 189.4,233.3 C191.6,233.8 193.9,230.6 196.3,229.0 C198.7,227.4 201.7,225.7 204.0,223.7 C206.3,221.7 207.9,218.8 210.2,216.8 C212.5,214.9 215.3,213.3 217.9,212.0 C220.5,210.7 223.6,209.5 225.6,209.0 C227.6,208.5 228.4,208.1 230.2,209.0 C232.0,209.9 234.3,212.2 236.4,214.5 C238.5,216.8 241.0,220.3 242.6,223.0 C244.2,225.7 244.3,226.6 246.0,230.7 C247.7,234.8 250.6,243.3 252.8,247.4 C255.0,251.5 256.9,253.8 259.0,255.0 C261.1,256.2 263.2,256.3 265.6,254.4 C268.0,252.5 271.3,247.0 273.3,243.6 C275.3,240.2 276.2,237.3 277.7,234.0 C279.2,230.7 280.5,227.7 282.3,224.0 C284.1,220.3 286.4,215.3 288.5,211.7 C290.6,208.1 292.6,205.1 294.6,202.4 C296.7,199.7 298.7,197.3 300.8,195.5 C302.9,193.7 305.0,192.2 307.0,191.6 C309.0,190.9 310.9,191.2 313.0,191.6 C315.1,192.0 317.5,193.1 319.3,194.0 C321.1,194.9 322.4,196.2 324.0,197.0 C325.6,197.8 327.3,198.6 328.6,198.5 C329.9,198.4 330.8,197.3 332.0,196.2 C333.2,195.1 334.1,194.0 336.0,192.0 C337.9,190.0 341.6,187.0 343.6,184.0 C345.6,181.0 346.6,176.9 348.2,174.0 C349.8,171.1 351.1,169.0 352.9,166.3 C354.7,163.6 356.9,159.9 359.0,157.8 C361.1,155.8 363.1,155.2 365.2,154.0 C367.3,152.8 369.6,152.3 371.4,150.9 C373.2,149.5 374.5,147.8 376.0,145.5 C377.5,143.2 378.8,139.7 380.6,137.0 C382.4,134.3 384.7,131.4 386.8,129.3 C388.9,127.2 391.4,126.5 393.0,124.6 C394.6,122.7 394.8,120.1 396.4,117.8 C398.0,115.5 400.5,112.2 402.6,110.9 C404.7,109.6 407.0,109.7 408.8,109.8 C410.6,109.9 411.9,111.9 413.4,111.7 C414.9,111.5 416.5,110.5 418.0,108.6 C419.5,106.6 421.1,103.1 422.6,100.0 C424.2,96.9 425.5,92.8 427.3,90.0 C429.1,87.2 431.3,85.2 433.4,83.0 C435.4,80.8 437.7,79.2 439.6,77.0 C441.5,74.8 443.4,72.7 445.0,70.0 C446.6,67.3 447.7,63.4 449.5,61.0 C451.3,58.6 454.1,56.7 456.0,55.6 C457.9,54.5 458.9,54.6 461.0,54.4 C463.1,54.2 466.4,54.1 468.7,54.4 C471.0,54.7 473.1,55.0 475.0,56.3 C476.9,57.6 478.5,60.0 480.0,62.0 C481.5,64.0 482.7,65.9 484.0,68.5 C485.3,71.1 486.5,74.6 488.0,77.4 C489.5,80.2 491.3,82.8 492.9,85.4 C494.5,88.0 496.0,90.4 497.5,93.0 C499.0,95.6 500.2,98.4 502.0,100.9 C503.8,103.4 506.2,105.9 508.3,107.8 C510.4,109.7 512.5,111.5 514.5,112.4 C516.5,113.4 518.6,113.0 520.6,113.5 C522.6,114.0 525.1,115.0 526.8,115.5 C528.5,116.0 530.1,116.4 530.7,116.6" fill="none" stroke="#ff1010" stroke-width="0.9" />
<line x1="221.5" y1="246.7" x2="443" y2="13" stroke="#00008b" stroke-width="1.8"/>
<line x1="247.5" y1="303" x2="493" y2="44.6" stroke="#00008b" stroke-width="1.8"/>
<line x1="533" y1="126.5" x2="546.2" y2="173" stroke="#00008b" stroke-width="1.6"/>
<polygon points="549.4,182.8 541.8,173.6 550.4,170.2" fill="#00008b"/>
<polygon points="54.1,159.0 61.5,159.0 57.8,165.5" fill="none" stroke="#ff0000" stroke-width="1.1"/>
<text x="53.6" y="154.3" textLength="22" lengthAdjust="spacingAndGlyphs" font-family="Liberation Sans, DejaVu Sans, sans-serif" font-size="7.6" fill="#1a1a1a" stroke="#1a1a1a" stroke-width="0.3">1.1520</text>
<polygon points="97.5,114.5 104.9,114.5 101.2,121.0" fill="none" stroke="#ff0000" stroke-width="1.1"/>
<text x="97.0" y="109.8" textLength="22" lengthAdjust="spacingAndGlyphs" font-family="Liberation Sans, DejaVu Sans, sans-serif" font-size="7.6" fill="#1a1a1a" stroke="#1a1a1a" stroke-width="0.3">1.1550</text>
<polygon points="223.6,185.0 231.0,185.0 227.3,191.5" fill="none" stroke="#ff0000" stroke-width="1.1"/>
<text x="223.1" y="180.3" textLength="22" lengthAdjust="spacingAndGlyphs" font-family="Liberation Sans, DejaVu Sans, sans-serif" font-size="7.6" fill="#1a1a1a" stroke="#1a1a1a" stroke-width="0.3">1.1503</text>
<polygon points="290.9,165.8 298.3,165.8 294.6,172.3" fill="none" stroke="#ff0000" stroke-width="1.1"/>
<text x="290.4" y="161.1" textLength="22" lengthAdjust="spacingAndGlyphs" font-family="Liberation Sans, DejaVu Sans, sans-serif" font-size="7.6" fill="#1a1a1a" stroke="#1a1a1a" stroke-width="0.3">1.1515</text>
<polygon points="339.1,121.0 346.5,121.0 342.8,127.5" fill="none" stroke="#ff0000" stroke-width="1.1"/>
<text x="338.6" y="116.3" textLength="22" lengthAdjust="spacingAndGlyphs" font-family="Liberation Sans, DejaVu Sans, sans-serif" font-size="7.6" fill="#1a1a1a" stroke="#1a1a1a" stroke-width="0.3">1.1545</text>
<polygon points="373.7,81.5 381.1,81.5 377.4,88.0" fill="none" stroke="#ff0000" stroke-width="1.1"/>
<text x="373.2" y="76.8" textLength="22" lengthAdjust="spacingAndGlyphs" font-family="Liberation Sans, DejaVu Sans, sans-serif" font-size="7.6" fill="#1a1a1a" stroke="#1a1a1a" stroke-width="0.3">1.1572</text>
<polygon points="456.8,24.9 464.2,24.9 460.5,31.4" fill="none" stroke="#ff0000" stroke-width="1.1"/>
<text x="456.3" y="20.2" textLength="22" lengthAdjust="spacingAndGlyphs" font-family="Liberation Sans, DejaVu Sans, sans-serif" font-size="7.6" fill="#1a1a1a" stroke="#1a1a1a" stroke-width="0.3">1.1610</text>
<polygon points="32.7,219.0 39.3,219.0 36.0,212.5" fill="none" stroke="#109010" stroke-width="1.1"/>
<text x="33.4" y="229.9" textLength="22" lengthAdjust="spacingAndGlyphs" font-family="Liberation Sans, DejaVu Sans, sans-serif" font-size="7.6" fill="#1a1a1a" stroke="#1a1a1a" stroke-width="0.3">1.1491</text>
<polygon points="94.7,230.7 101.3,230.7 98.0,224.2" fill="none" stroke="#109010" stroke-width="1.1"/>
<text x="95.4" y="241.6" textLength="22" lengthAdjust="spacingAndGlyphs" font-family="Liberation Sans, DejaVu Sans, sans-serif" font-size="7.6" fill="#1a1a1a" stroke="#1a1a1a" stroke-width="0.3">1.1483</text>
<polygon points="171.7,268.2 178.3,268.2 175.0,261.7" fill="none" stroke="#109010" stroke-width="1.1"/>
<text x="172.4" y="279.1" textLength="22" lengthAdjust="spacingAndGlyphs" font-family="Liberation Sans, DejaVu Sans, sans-serif" font-size="7.6" fill="#1a1a1a" stroke="#1a1a1a" stroke-width="0.3">1.1458</text>
<polygon points="246.7,311.0 253.3,311.0 250.0,304.5" fill="none" stroke="#109010" stroke-width="1.1"/>
<text x="247.4" y="321.9" textLength="22" lengthAdjust="spacingAndGlyphs" font-family="Liberation Sans, DejaVu Sans, sans-serif" font-size="7.6" fill="#1a1a1a" stroke="#1a1a1a" stroke-width="0.3">1.1429</text>
<polygon points="314.3,239.8 320.9,239.8 317.6,233.3" fill="none" stroke="#109010" stroke-width="1.1"/>
<text x="315.0" y="250.7" textLength="22" lengthAdjust="spacingAndGlyphs" font-family="Liberation Sans, DejaVu Sans, sans-serif" font-size="7.6" fill="#1a1a1a" stroke="#1a1a1a" stroke-width="0.3">1.1477</text>
<polygon points="348.9,187.0 355.5,187.0 352.2,180.5" fill="none" stroke="#109010" stroke-width="1.1"/>
<text x="349.6" y="197.9" textLength="22" lengthAdjust="spacingAndGlyphs" font-family="Liberation Sans, DejaVu Sans, sans-serif" font-size="7.6" fill="#1a1a1a" stroke="#1a1a1a" stroke-width="0.3">1.1513</text>
<polygon points="385.9,156.7 392.5,156.7 389.2,150.2" fill="none" stroke="#109010" stroke-width="1.1"/>
<text x="386.6" y="167.6" textLength="22" lengthAdjust="spacingAndGlyphs" font-family="Liberation Sans, DejaVu Sans, sans-serif" font-size="7.6" fill="#1a1a1a" stroke="#1a1a1a" stroke-width="0.3">1.1534</text>
<polygon points="485.7,157.5 492.3,157.5 489.0,151.0" fill="none" stroke="#109010" stroke-width="1.1"/>
<text x="486.4" y="168.4" textLength="22" lengthAdjust="spacingAndGlyphs" font-family="Liberation Sans, DejaVu Sans, sans-serif" font-size="7.6" fill="#1a1a1a" stroke="#1a1a1a" stroke-width="0.3">1.1533</text>
<text x="552.2" y="43.8" fill="#4a9a20" textLength="21.3" font-family="Liberation Sans, sans-serif" font-size="8.9" lengthAdjust="spacingAndGlyphs">1.161</text>
<text x="552.2" y="73.5" fill="#4a9a20" textLength="21.3" font-family="Liberation Sans, sans-serif" font-size="8.9" lengthAdjust="spacingAndGlyphs">1.159</text>
<text x="552.2" y="102.2" fill="#3030ff" textLength="21.3" font-family="Liberation Sans, sans-serif" font-size="8.9" lengthAdjust="spacingAndGlyphs">1.157</text>
<text x="547.4" y="154.0" fill="#ff2020" textLength="26" font-family="Liberation Sans, sans-serif" font-size="8.9" lengthAdjust="spacingAndGlyphs">1.1535</text>
<text x="547.4" y="183.6" fill="#ff2020" textLength="26" font-family="Liberation Sans, sans-serif" font-size="8.9" lengthAdjust="spacingAndGlyphs">1.1515</text>
<polygon points="549.4,182.8 541.8,173.6 550.4,170.2" fill="#00008b"/>
<line x1="573.7" y1="13" x2="573.7" y2="397.5" stroke="#3c3c3c" stroke-width="1.5"/>
<line x1="27.5" y1="327" x2="574.0" y2="327" stroke="#555" stroke-width="1.5"/>
<line x1="27.5" y1="388" x2="574.0" y2="388" stroke="#555" stroke-width="1.5"/>
<line x1="574.0" y1="25.3" x2="577.6" y2="25.3" stroke="#222" stroke-width="1"/>
<line x1="574.0" y1="101.5" x2="577.6" y2="101.5" stroke="#222" stroke-width="1"/>
<line x1="574.0" y1="178.1" x2="577.6" y2="178.1" stroke="#222" stroke-width="1"/>
<line x1="574.0" y1="254.3" x2="577.6" y2="254.3" stroke="#222" stroke-width="1"/>
<line x1="574.0" y1="338.0" x2="577.6" y2="338.0" stroke="#222" stroke-width="1"/>
<line x1="574.0" y1="357.3" x2="577.6" y2="357.3" stroke="#222" stroke-width="1"/>
<line x1="574.0" y1="377.0" x2="577.6" y2="377.0" stroke="#222" stroke-width="1"/>
<text x="586.8" y="28.4" textLength="25.5" lengthAdjust="spacingAndGlyphs" font-family="Liberation Sans, sans-serif" font-size="8.6" fill="#222" stroke="#222" stroke-width="0.2">1.1617</text>
<text x="586.8" y="104.3" textLength="25.5" lengthAdjust="spacingAndGlyphs" font-family="Liberation Sans, sans-serif" font-size="8.6" fill="#6a6a6a">1.1565</text>
<text x="586.8" y="181.4" textLength="25.5" lengthAdjust="spacingAndGlyphs" font-family="Liberation Sans, sans-serif" font-size="8.6" fill="#222" stroke="#222" stroke-width="0.2">1.1513</text>
<text x="586.8" y="257.5" textLength="25.5" lengthAdjust="spacingAndGlyphs" font-family="Liberation Sans, sans-serif" font-size="8.6" fill="#222" stroke="#222" stroke-width="0.2">1.1461</text>
<text x="603.6" y="341" font-family="Liberation Sans, sans-serif" font-size="8.6" fill="#222" stroke="#222" stroke-width="0.2">70</text>
<text x="603.6" y="380.3" font-family="Liberation Sans, sans-serif" font-size="8.6" fill="#222" stroke="#222" stroke-width="0.2">30</text>
<line x1="51.3" y1="388" x2="51.3" y2="391.6" stroke="#222" stroke-width="1"/>
<text x="53.5" y="396" font-family="Liberation Sans, sans-serif" font-size="8.6" fill="#222" stroke="#222" stroke-width="0.2">5</text>
<line x1="127.8" y1="388" x2="127.8" y2="391.6" stroke="#222" stroke-width="1"/>
<text x="130.0" y="396" font-family="Liberation Sans, sans-serif" font-size="8.6" fill="#222" stroke="#222" stroke-width="0.2">8</text>
<line x1="205.0" y1="388" x2="205.0" y2="391.6" stroke="#222" stroke-width="1"/>
<text x="207.2" y="396" font-family="Liberation Sans, sans-serif" font-size="8.6" fill="#222" stroke="#222" stroke-width="0.2">9</text>
<line x1="282.3" y1="388" x2="282.3" y2="391.6" stroke="#222" stroke-width="1"/>
<text x="284.5" y="396" font-family="Liberation Sans, sans-serif" font-size="8.6" fill="#222" stroke="#222" stroke-width="0.2">10</text>
<line x1="360.3" y1="388" x2="360.3" y2="391.6" stroke="#222" stroke-width="1"/>
<text x="362.5" y="396" font-family="Liberation Sans, sans-serif" font-size="8.6" fill="#222" stroke="#222" stroke-width="0.2">11</text>
<line x1="438.0" y1="388" x2="438.0" y2="391.6" stroke="#222" stroke-width="1"/>
<text x="440.2" y="396" font-family="Liberation Sans, sans-serif" font-size="8.6" fill="#222" stroke="#222" stroke-width="0.2">12</text>
<line x1="515.3" y1="388" x2="515.3" y2="391.6" stroke="#222" stroke-width="1"/>
<text x="517.5" y="396" font-family="Liberation Sans, sans-serif" font-size="8.6" fill="#222" stroke="#222" stroke-width="0.2">15</text>
<path d="M30.3,345.8 C31.1,346.4 33.3,348.2 35.4,349.6 C37.5,351.0 40.4,353.6 43.0,354.0 C45.6,354.4 48.2,352.7 50.8,352.0 C53.4,351.3 56.0,349.6 58.5,350.0 C61.0,350.4 63.0,352.9 66.0,354.7 C69.0,356.5 73.0,359.4 76.4,360.6 C79.9,361.8 83.7,361.6 86.7,362.0 C89.7,362.4 92.3,363.8 94.4,363.0 C96.5,362.2 97.8,359.5 99.5,357.3 C101.2,355.1 102.9,350.9 104.6,349.6 C106.3,348.3 107.6,348.6 109.7,349.6 C111.8,350.6 114.9,355.1 117.4,355.5 C120.0,355.9 122.4,352.7 125.0,352.0 C127.6,351.3 130.2,350.9 132.8,351.4 C135.4,351.8 138.0,353.3 140.5,354.7 C143.0,356.1 145.4,357.9 148.0,360.0 C150.6,362.1 153.4,364.9 156.0,367.6 C158.6,370.3 161.5,374.2 163.6,376.0 C165.7,377.8 167.0,378.3 168.7,378.6 C170.4,378.9 172.7,378.2 174.0,377.8 C175.3,377.4 174.9,377.8 176.4,376.5 C177.9,375.2 180.5,372.4 182.8,370.0 C185.2,367.6 188.0,364.7 190.5,362.4 C193.0,360.1 195.4,357.6 198.0,356.0 C200.6,354.4 203.4,353.0 206.0,352.7 C208.6,352.4 211.0,353.5 213.6,354.0 C216.2,354.5 219.0,355.6 221.3,355.5 C223.7,355.4 225.6,353.0 227.7,353.5 C229.8,354.0 231.7,356.5 234.0,358.6 C236.3,360.7 239.6,364.2 241.8,366.3 C244.0,368.4 245.3,370.3 247.0,371.4 C248.7,372.5 250.3,373.3 252.0,372.7 C253.7,372.1 255.1,370.0 257.0,367.6 C258.9,365.2 261.4,361.4 263.6,358.6 C265.8,355.8 267.6,352.7 270.0,351.0 C272.4,349.3 275.1,348.6 277.7,348.3 C280.3,348.0 282.8,349.4 285.4,349.0 C287.9,348.6 290.4,346.9 293.0,345.8 C295.6,344.8 298.5,342.9 300.8,342.7 C303.1,342.5 304.9,342.9 307.0,344.5 C309.1,346.1 311.4,349.3 313.6,352.0 C315.8,354.7 318.1,359.2 320.0,360.6 C321.9,362.0 323.1,361.8 325.0,360.6 C326.9,359.4 329.3,356.2 331.5,353.5 C333.7,350.8 335.9,346.8 338.0,344.5 C340.1,342.2 342.5,340.4 344.4,340.0 C346.3,339.6 347.6,340.4 349.5,342.0 C351.4,343.6 353.9,347.8 356.0,349.6 C358.1,351.4 360.2,352.5 362.3,352.7 C364.4,352.9 366.6,352.4 368.7,351.0 C370.8,349.6 372.9,346.6 375.0,344.5 C377.1,342.4 379.8,339.5 381.5,338.6 C383.2,337.8 383.9,337.8 385.4,339.4 C386.9,341.0 388.8,345.9 390.5,348.3 C392.2,350.7 393.9,353.6 395.6,354.0 C397.3,354.4 398.9,352.6 400.8,351.0 C402.7,349.4 405.1,345.2 407.0,344.5 C408.9,343.8 410.4,345.9 412.3,347.0 C414.2,348.1 416.6,350.9 418.7,351.0 C420.8,351.1 422.6,349.2 425.0,347.8 C427.4,346.4 430.2,343.6 432.8,342.7 C435.4,341.8 438.1,342.3 440.5,342.7 C442.9,343.1 444.9,345.2 447.0,345.3 C449.1,345.4 451.2,343.9 453.3,343.2 C455.4,342.5 457.8,341.0 459.7,341.4 C461.6,341.8 463.4,344.2 465.0,345.8 C466.6,347.4 467.2,348.9 469.0,351.0 C470.8,353.1 473.3,356.3 475.5,358.6 C477.7,360.9 480.1,362.9 482.0,365.0 C483.9,367.1 485.3,369.5 487.0,371.0 C488.7,372.5 490.3,373.6 492.0,374.0 C493.7,374.4 495.6,374.3 497.3,373.5 C499.1,372.7 500.8,370.8 502.5,369.4 C504.2,368.0 505.9,366.0 507.6,365.0 C509.3,364.0 510.8,363.1 512.7,363.2 C514.6,363.3 516.9,364.9 519.0,365.8 C521.1,366.7 523.5,368.0 525.5,368.3 C527.5,368.6 530.1,367.7 531.0,367.6" fill="none" stroke="#ff1010" stroke-width="0.9" />
<polyline points="30.3,355.5 35.4,358.6 39.0,351.0 45.6,353.0 52.0,350.4 58.0,348.3 61.0,356.0 67.4,361.0 71.3,358.6 75.0,370.0 77.7,357.3 80.3,354.7 84.0,370.0 87.0,365.0 89.0,367.6 93.0,362.4 95.6,353.5 97.7,338.6 101.3,337.6 103.3,349.6 105.0,360.0 106.7,357.3 108.5,363.0 112.3,353.5 119.5,346.3 122.6,354.7 126.4,351.0 132.8,351.4 138.0,358.6 141.8,362.4 145.6,361.7 150.8,367.6 154.6,376.5 156.0,372.7 160.5,386.8 163.0,378.6 167.4,380.4 171.3,376.5 174.6,382.0 175.6,379.0 178.5,360.6 180.0,365.0 188.0,361.0 191.8,353.5 194.4,354.7 197.0,349.0 200.8,354.0 208.5,353.0 212.3,357.3 215.0,354.7 216.7,361.0 218.7,353.5 222.6,356.0 225.6,346.3 227.7,351.0 230.0,369.0 232.8,372.7 235.4,366.3 237.0,370.0 239.0,362.4 241.8,375.0 244.4,372.7 248.0,378.6 250.8,370.0 252.6,365.0 254.6,367.6 257.0,352.0 259.7,353.5 266.0,347.8 268.7,349.6 271.3,346.3 275.0,347.8 277.7,353.5 282.8,349.6 286.7,343.7 293.0,340.6 297.0,344.5 300.8,343.0 304.6,345.8 307.0,353.5 309.7,356.0 311.5,366.3 314.0,362.4 317.4,366.3 321.3,356.0 323.8,352.0 326.4,356.0 331.5,342.0 334.0,343.2 338.0,336.8 343.0,340.6 347.0,344.5 349.5,353.5 352.0,358.0 356.0,353.5 358.5,351.0 361.0,345.3 363.6,351.0 366.0,347.0 369.0,345.8 371.3,333.5 374.4,335.5 377.7,333.5 380.0,339.4 382.8,345.8 385.4,353.5 388.0,356.0 390.5,360.0 394.4,353.5 397.0,340.6 399.5,337.6 403.3,338.0 406.0,345.8 407.7,342.0 411.0,353.5 414.4,359.0 417.0,349.6 418.7,344.5 421.3,345.3 425.0,338.0 428.0,342.7 430.8,339.4 434.0,346.3 437.4,343.7 441.8,347.0 445.6,342.0 448.0,344.5 451.3,338.6 453.8,343.2 458.5,340.6 460.5,344.5 462.3,359.0 465.6,351.0 466.6,349.6 469.0,365.0 471.7,361.0 475.5,365.0 479.4,366.3 483.0,374.0 485.8,380.4 487.6,384.0 489.6,367.6 492.0,371.0 494.0,367.6 496.8,365.0 498.6,368.8 502.5,365.0 505.5,360.6 509.0,365.0 512.7,363.7 515.3,370.0 519.0,366.3 521.7,365.0 524.0,368.8 526.8,366.3 528.0,363.0 530.0,368.3 531.0,367.6" fill="none" stroke="#10108c" stroke-width="0.9" stroke-linejoin="round" />
<text x="29.5" y="336.4" font-family="Liberation Sans, sans-serif" font-size="8.8" fill="#222" stroke="#222" stroke-width="0.2" textLength="48" lengthAdjust="spacingAndGlyphs">RSI14 - 9MA</text>
<rect x="580" y="90" width="34.7" height="10.4" fill="#0000ff"/>
<text x="584" y="98.8" fill="#fff" textLength="29.6" lengthAdjust="spacingAndGlyphs" font-family="Liberation Sans, sans-serif" font-size="9.2">1.15691</text>
<polygon points="574.3,117.4 580,111.8 614.7,111.8 614.7,123 580,123" fill="#ff0000"/>
<text x="584" y="120.6" fill="#3a0000" textLength="29.6" lengthAdjust="spacingAndGlyphs" font-family="Liberation Sans, sans-serif" font-size="9.2">1.15543</text>
<rect x="580" y="123" width="34.7" height="10.5" fill="#000"/>
<text x="584" y="131.6" fill="#fff" textLength="29.6" lengthAdjust="spacingAndGlyphs" font-family="Liberation Sans, sans-serif" font-size="9.2">1.15484</text>
<rect x="580" y="351" width="34.8" height="10.9" fill="#ff0000"/>
<text x="583.5" y="359.8" fill="#3a0000" textLength="30" lengthAdjust="spacingAndGlyphs" font-family="Liberation Sans, sans-serif" font-size="9.2">39.6046</text>
<polygon points="574.6,368 580,362.4 614.8,362.4 614.8,373.6 580,373.6" fill="#000080"/>
<text x="583.5" y="371.2" fill="#fff" textLength="30" lengthAdjust="spacingAndGlyphs" font-family="Liberation Sans, sans-serif" font-size="9.2">39.4597</text>
<rect x="28" y="14" width="126.6" height="20.5" fill="#fff"/>
<text y="21.6" font-family="Liberation Sans, sans-serif" font-size="9.4" fill="#111" stroke="#111" stroke-width="0.22"><tspan x="29.3" textLength="34.4" lengthAdjust="spacingAndGlyphs">EUR/USD</tspan> <tspan x="67" textLength="33.6" lengthAdjust="spacingAndGlyphs">- 30min -</tspan> <tspan x="103.3" textLength="102.5" lengthAdjust="spacingAndGlyphs">10/15/2018 05:27:21 (CET)</tspan></text>
<text y="31.8" font-family="Liberation Sans, sans-serif" font-size="9.4" fill="#111" stroke="#111" stroke-width="0.22"><tspan x="29.6" textLength="35.8" lengthAdjust="spacingAndGlyphs">Research</tspan> <tspan x="68.4">©</tspan> <tspan x="78.3" textLength="75.3" lengthAdjust="spacingAndGlyphs">TRADING CENTRAL</tspan></text>
</svg>
</body></html>
